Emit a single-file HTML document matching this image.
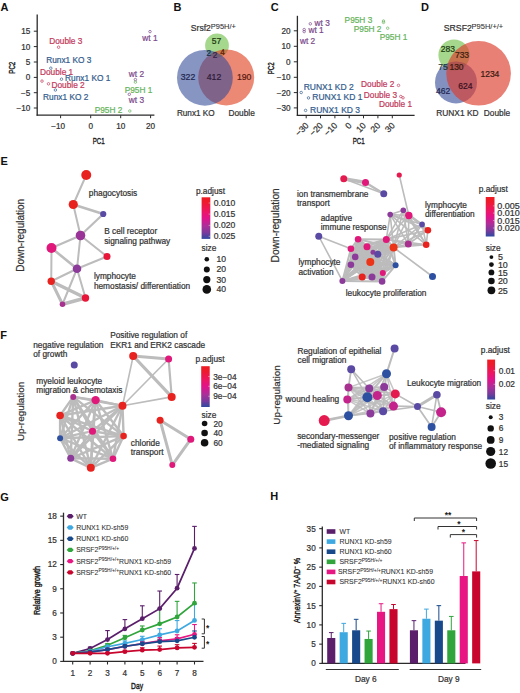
<!DOCTYPE html>
<html><head><meta charset="utf-8"><title>Figure</title>
<style>html,body{margin:0;padding:0;background:#fff;}svg{display:block;font-family:"Liberation Sans",sans-serif;}</style>
</head><body>
<svg width="520" height="693" viewBox="0 0 520 693">
<rect width="520" height="693" fill="#fff"/>
<text x="0.60" y="11.20" font-size="11" fill="#111" stroke="#111" stroke-width="0" text-anchor="start" font-weight="bold" >A</text>
<text x="173.60" y="11.20" font-size="11" fill="#111" stroke="#111" stroke-width="0" text-anchor="start" font-weight="bold" >B</text>
<text x="270.80" y="11.40" font-size="11" fill="#111" stroke="#111" stroke-width="0" text-anchor="start" font-weight="bold" >C</text>
<text x="420.90" y="11.40" font-size="11" fill="#111" stroke="#111" stroke-width="0" text-anchor="start" font-weight="bold" >D</text>
<text x="0.60" y="165.20" font-size="11" fill="#111" stroke="#111" stroke-width="0" text-anchor="start" font-weight="bold" >E</text>
<text x="0.20" y="339.00" font-size="11" fill="#111" stroke="#111" stroke-width="0" text-anchor="start" font-weight="bold" >F</text>
<text x="0.20" y="500.50" font-size="11" fill="#111" stroke="#111" stroke-width="0" text-anchor="start" font-weight="bold" >G</text>
<text x="270.20" y="500.30" font-size="11" fill="#111" stroke="#111" stroke-width="0" text-anchor="start" font-weight="bold" >H</text>
<line x1="37.20" y1="14.60" x2="37.20" y2="115.80" stroke="#2b2b2b" stroke-width="1.3" />
<line x1="36.60" y1="115.20" x2="154.40" y2="115.20" stroke="#2b2b2b" stroke-width="1.3" />
<line x1="33.80" y1="31.20" x2="37.20" y2="31.20" stroke="#2b2b2b" stroke-width="1.0" />
<text x="30.30" y="34.10" font-size="8.2" fill="#333" stroke="#333" stroke-width="0.22" text-anchor="end" font-weight="normal" >15</text>
<line x1="33.80" y1="46.60" x2="37.20" y2="46.60" stroke="#2b2b2b" stroke-width="1.0" />
<text x="30.30" y="49.50" font-size="8.2" fill="#333" stroke="#333" stroke-width="0.22" text-anchor="end" font-weight="normal" >10</text>
<line x1="33.80" y1="62.00" x2="37.20" y2="62.00" stroke="#2b2b2b" stroke-width="1.0" />
<text x="30.30" y="64.90" font-size="8.2" fill="#333" stroke="#333" stroke-width="0.22" text-anchor="end" font-weight="normal" >5</text>
<line x1="33.80" y1="77.40" x2="37.20" y2="77.40" stroke="#2b2b2b" stroke-width="1.0" />
<text x="30.30" y="80.30" font-size="8.2" fill="#333" stroke="#333" stroke-width="0.22" text-anchor="end" font-weight="normal" >0</text>
<line x1="33.80" y1="92.70" x2="37.20" y2="92.70" stroke="#2b2b2b" stroke-width="1.0" />
<text x="30.30" y="95.60" font-size="8.2" fill="#333" stroke="#333" stroke-width="0.22" text-anchor="end" font-weight="normal" >&#8722;5</text>
<line x1="33.80" y1="108.00" x2="37.20" y2="108.00" stroke="#2b2b2b" stroke-width="1.0" />
<text x="30.30" y="110.90" font-size="8.2" fill="#333" stroke="#333" stroke-width="0.22" text-anchor="end" font-weight="normal" >&#8722;10</text>
<line x1="60.60" y1="115.20" x2="60.60" y2="118.20" stroke="#2b2b2b" stroke-width="1.0" />
<text x="65.16" y="129.20" font-size="8.2" fill="#333" stroke="#333" stroke-width="0.22" text-anchor="end" font-weight="normal" >&#8722;10</text>
<line x1="90.70" y1="115.20" x2="90.70" y2="118.20" stroke="#2b2b2b" stroke-width="1.0" />
<text x="90.70" y="129.20" font-size="8.2" fill="#333" stroke="#333" stroke-width="0.22" text-anchor="middle" font-weight="normal" >0</text>
<line x1="120.70" y1="115.20" x2="120.70" y2="118.20" stroke="#2b2b2b" stroke-width="1.0" />
<text x="120.70" y="129.20" font-size="8.2" fill="#333" stroke="#333" stroke-width="0.22" text-anchor="middle" font-weight="normal" >10</text>
<line x1="150.60" y1="115.20" x2="150.60" y2="118.20" stroke="#2b2b2b" stroke-width="1.0" />
<text x="150.60" y="129.20" font-size="8.2" fill="#333" stroke="#333" stroke-width="0.22" text-anchor="middle" font-weight="normal" >20</text>
<g transform="translate(92.70,143.70) scale(0.63,1)"><text x="0" y="0" font-size="9.7" fill="#1c1c1c" stroke="#1c1c1c" stroke-width="0.4" text-anchor="start">PC1</text></g>
<g transform="translate(14.50,67.70) rotate(-90) scale(0.63,1)"><text x="0" y="0" font-size="9.7" fill="#1c1c1c" stroke="#1c1c1c" stroke-width="0.4" text-anchor="middle">PC2</text></g>
<text x="142.30" y="41.20" font-size="8.3" fill="#7b4a8c" stroke="#7b4a8c" stroke-width="0.22" text-anchor="start" font-weight="normal" >wt 1</text>
<circle cx="150.00" cy="31.60" r="1.25" fill="none" stroke="#7b4a8c" stroke-width="0.7" />
<text x="49.20" y="43.50" font-size="8.3" fill="#c23a5c" stroke="#c23a5c" stroke-width="0.22" text-anchor="start" font-weight="normal" >Double 3</text>
<circle cx="58.60" cy="47.20" r="1.25" fill="none" stroke="#c23a5c" stroke-width="0.7" />
<text x="46.20" y="63.10" font-size="8.3" fill="#345d8d" stroke="#345d8d" stroke-width="0.22" text-anchor="start" font-weight="normal" >Runx1 KO 3</text>
<circle cx="50.80" cy="68.20" r="1.25" fill="none" stroke="#345d8d" stroke-width="0.7" />
<text x="40.00" y="74.50" font-size="8.3" fill="#c23a5c" stroke="#c23a5c" stroke-width="0.22" text-anchor="start" font-weight="normal" >Double 1</text>
<circle cx="42.00" cy="81.10" r="1.25" fill="none" stroke="#c23a5c" stroke-width="0.7" />
<circle cx="61.50" cy="79.20" r="1.25" fill="none" stroke="#345d8d" stroke-width="0.7" />
<text x="65.10" y="80.80" font-size="8.3" fill="#345d8d" stroke="#345d8d" stroke-width="0.22" text-anchor="start" font-weight="normal" >Runx1 KO 1</text>
<circle cx="48.50" cy="83.80" r="1.25" fill="none" stroke="#c23a5c" stroke-width="0.7" />
<text x="51.50" y="88.00" font-size="8.3" fill="#c23a5c" stroke="#c23a5c" stroke-width="0.22" text-anchor="start" font-weight="normal" >Double 2</text>
<circle cx="55.40" cy="90.00" r="1.25" fill="none" stroke="#345d8d" stroke-width="0.7" />
<text x="43.10" y="100.30" font-size="8.3" fill="#345d8d" stroke="#345d8d" stroke-width="0.22" text-anchor="start" font-weight="normal" >Runx1 KO 2</text>
<text x="128.80" y="76.80" font-size="8.3" fill="#7b4a8c" stroke="#7b4a8c" stroke-width="0.22" text-anchor="start" font-weight="normal" >wt 2</text>
<circle cx="135.40" cy="79.60" r="1.25" fill="none" stroke="#7b4a8c" stroke-width="0.7" />
<circle cx="135.40" cy="82.10" r="1.25" fill="none" stroke="#66b45c" stroke-width="0.7" />
<text x="124.70" y="92.50" font-size="8.3" fill="#66b45c" stroke="#66b45c" stroke-width="0.22" text-anchor="start" font-weight="normal" >P95H 1</text>
<circle cx="129.30" cy="94.30" r="1.25" fill="none" stroke="#7b4a8c" stroke-width="0.7" />
<text x="128.80" y="103.20" font-size="8.3" fill="#7b4a8c" stroke="#7b4a8c" stroke-width="0.22" text-anchor="start" font-weight="normal" >wt 3</text>
<text x="94.70" y="112.90" font-size="8.3" fill="#66b45c" stroke="#66b45c" stroke-width="0.22" text-anchor="start" font-weight="normal" >P95H 2</text>
<circle cx="129.80" cy="111.00" r="1.25" fill="none" stroke="#66b45c" stroke-width="0.7" />
<g>
<circle cx="217.00" cy="45.50" r="11.90" fill="#69bc3f" stroke="none" stroke-width="0" fill-opacity="0.6"/>
<circle cx="226.20" cy="77.40" r="28.00" fill="#df4021" stroke="none" stroke-width="0" fill-opacity="0.62"/>
<circle cx="204.90" cy="77.80" r="27.90" fill="#304898" stroke="none" stroke-width="0" fill-opacity="0.58"/>
</g>
<text x="190.80" y="30.50" font-size="8.6" fill="#333" stroke="#333" stroke-width="0.22" text-anchor="start" font-weight="normal" >Srsf2</text>
<text x="210.80" y="28.90" font-size="6.8" fill="#333" stroke="#333" stroke-width="0.08" text-anchor="start" font-weight="normal" textLength="25" lengthAdjust="spacingAndGlyphs">P95H/+</text>
<text x="216.60" y="44.40" font-size="8.5" fill="#1a3a10" stroke="#1a3a10" stroke-width="0.22" text-anchor="middle" font-weight="normal" >57</text>
<text x="208.70" y="55.50" font-size="8.2" fill="#16304a" stroke="#16304a" stroke-width="0.22" text-anchor="middle" font-weight="normal" >2</text>
<text x="215.00" y="58.00" font-size="8.2" fill="#3a1e4a" stroke="#3a1e4a" stroke-width="0.22" text-anchor="middle" font-weight="normal" >2</text>
<text x="222.50" y="55.30" font-size="8.2" fill="#5a1808" stroke="#5a1808" stroke-width="0.22" text-anchor="middle" font-weight="normal" >4</text>
<text x="188.00" y="80.00" font-size="8.7" fill="#1f2550" stroke="#1f2550" stroke-width="0.22" text-anchor="middle" font-weight="normal" >322</text>
<text x="214.00" y="80.00" font-size="8.7" fill="#2e1a3a" stroke="#2e1a3a" stroke-width="0.22" text-anchor="middle" font-weight="normal" >412</text>
<text x="244.20" y="79.80" font-size="8.7" fill="#5a1a10" stroke="#5a1a10" stroke-width="0.22" text-anchor="middle" font-weight="normal" >190</text>
<text x="176.90" y="116.00" font-size="8.2" fill="#333" stroke="#333" stroke-width="0.22" text-anchor="start" font-weight="normal" >Runx1 KO</text>
<text x="228.50" y="116.00" font-size="8.3" fill="#333" stroke="#333" stroke-width="0.22" text-anchor="start" font-weight="normal" >Double</text>
<line x1="297.40" y1="15.80" x2="297.40" y2="116.00" stroke="#2b2b2b" stroke-width="1.3" />
<line x1="296.80" y1="115.40" x2="414.60" y2="115.40" stroke="#2b2b2b" stroke-width="1.3" />
<line x1="293.80" y1="30.80" x2="297.40" y2="30.80" stroke="#2b2b2b" stroke-width="1.0" />
<text x="290.60" y="33.70" font-size="8.2" fill="#333" stroke="#333" stroke-width="0.22" text-anchor="end" font-weight="normal" >20</text>
<line x1="293.80" y1="46.30" x2="297.40" y2="46.30" stroke="#2b2b2b" stroke-width="1.0" />
<text x="290.60" y="49.20" font-size="8.2" fill="#333" stroke="#333" stroke-width="0.22" text-anchor="end" font-weight="normal" >10</text>
<line x1="293.80" y1="61.80" x2="297.40" y2="61.80" stroke="#2b2b2b" stroke-width="1.0" />
<text x="290.60" y="64.70" font-size="8.2" fill="#333" stroke="#333" stroke-width="0.22" text-anchor="end" font-weight="normal" >0</text>
<line x1="293.80" y1="77.30" x2="297.40" y2="77.30" stroke="#2b2b2b" stroke-width="1.0" />
<text x="290.60" y="80.20" font-size="8.2" fill="#333" stroke="#333" stroke-width="0.22" text-anchor="end" font-weight="normal" >&#8722;10</text>
<line x1="293.80" y1="92.60" x2="297.40" y2="92.60" stroke="#2b2b2b" stroke-width="1.0" />
<text x="290.60" y="95.50" font-size="8.2" fill="#333" stroke="#333" stroke-width="0.22" text-anchor="end" font-weight="normal" >&#8722;20</text>
<line x1="293.80" y1="107.90" x2="297.40" y2="107.90" stroke="#2b2b2b" stroke-width="1.0" />
<text x="290.60" y="110.80" font-size="8.2" fill="#333" stroke="#333" stroke-width="0.22" text-anchor="end" font-weight="normal" >&#8722;30</text>
<line x1="306.20" y1="115.40" x2="306.20" y2="118.30" stroke="#2b2b2b" stroke-width="1.0" />
<text transform="translate(304.70,121.60) rotate(-45)" x="0" y="0" font-size="8.7" fill="#333" stroke="#333" stroke-width="0.22" text-anchor="end" dominant-baseline="hanging">&#8722;30</text>
<line x1="320.50" y1="115.40" x2="320.50" y2="118.30" stroke="#2b2b2b" stroke-width="1.0" />
<text transform="translate(319.00,121.60) rotate(-45)" x="0" y="0" font-size="8.7" fill="#333" stroke="#333" stroke-width="0.22" text-anchor="end" dominant-baseline="hanging">&#8722;20</text>
<line x1="334.90" y1="115.40" x2="334.90" y2="118.30" stroke="#2b2b2b" stroke-width="1.0" />
<text transform="translate(333.40,121.60) rotate(-45)" x="0" y="0" font-size="8.7" fill="#333" stroke="#333" stroke-width="0.22" text-anchor="end" dominant-baseline="hanging">&#8722;10</text>
<line x1="349.20" y1="115.40" x2="349.20" y2="118.30" stroke="#2b2b2b" stroke-width="1.0" />
<text transform="translate(347.70,121.60) rotate(-45)" x="0" y="0" font-size="8.7" fill="#333" stroke="#333" stroke-width="0.22" text-anchor="end" dominant-baseline="hanging">0</text>
<line x1="363.50" y1="115.40" x2="363.50" y2="118.30" stroke="#2b2b2b" stroke-width="1.0" />
<text transform="translate(362.00,121.60) rotate(-45)" x="0" y="0" font-size="8.7" fill="#333" stroke="#333" stroke-width="0.22" text-anchor="end" dominant-baseline="hanging">10</text>
<line x1="377.90" y1="115.40" x2="377.90" y2="118.30" stroke="#2b2b2b" stroke-width="1.0" />
<text transform="translate(376.40,121.60) rotate(-45)" x="0" y="0" font-size="8.7" fill="#333" stroke="#333" stroke-width="0.22" text-anchor="end" dominant-baseline="hanging">20</text>
<line x1="392.30" y1="115.40" x2="392.30" y2="118.30" stroke="#2b2b2b" stroke-width="1.0" />
<text transform="translate(390.80,121.60) rotate(-45)" x="0" y="0" font-size="8.7" fill="#333" stroke="#333" stroke-width="0.22" text-anchor="end" dominant-baseline="hanging">30</text>
<g transform="translate(352.80,143.50) scale(0.63,1)"><text x="0" y="0" font-size="9.7" fill="#1c1c1c" stroke="#1c1c1c" stroke-width="0.4" text-anchor="start">PC1</text></g>
<g transform="translate(274.00,68.40) rotate(-90) scale(0.63,1)"><text x="0" y="0" font-size="9.7" fill="#1c1c1c" stroke="#1c1c1c" stroke-width="0.4" text-anchor="middle">PC2</text></g>
<circle cx="310.30" cy="23.80" r="1.25" fill="none" stroke="#7b4a8c" stroke-width="0.7" />
<text x="314.60" y="25.70" font-size="8.3" fill="#7b4a8c" stroke="#7b4a8c" stroke-width="0.22" text-anchor="start" font-weight="normal" >wt 3</text>
<circle cx="304.20" cy="29.60" r="1.25" fill="none" stroke="#7b4a8c" stroke-width="0.7" />
<circle cx="304.20" cy="31.60" r="1.25" fill="none" stroke="#7b4a8c" stroke-width="0.7" />
<text x="308.50" y="33.00" font-size="8.3" fill="#7b4a8c" stroke="#7b4a8c" stroke-width="0.22" text-anchor="start" font-weight="normal" >wt 1</text>
<text x="300.00" y="43.50" font-size="8.3" fill="#7b4a8c" stroke="#7b4a8c" stroke-width="0.22" text-anchor="start" font-weight="normal" >wt 2</text>
<text x="344.60" y="23.10" font-size="8.3" fill="#66b45c" stroke="#66b45c" stroke-width="0.22" text-anchor="start" font-weight="normal" >P95H 3</text>
<circle cx="383.50" cy="21.00" r="1.25" fill="none" stroke="#66b45c" stroke-width="0.7" />
<circle cx="383.50" cy="22.40" r="1.25" fill="none" stroke="#66b45c" stroke-width="0.7" />
<text x="353.80" y="31.50" font-size="8.3" fill="#66b45c" stroke="#66b45c" stroke-width="0.22" text-anchor="start" font-weight="normal" >P95H 2</text>
<circle cx="387.70" cy="28.20" r="1.25" fill="none" stroke="#66b45c" stroke-width="0.7" />
<text x="379.70" y="39.70" font-size="8.3" fill="#66b45c" stroke="#66b45c" stroke-width="0.22" text-anchor="start" font-weight="normal" >P95H 1</text>
<circle cx="301.20" cy="92.50" r="1.25" fill="none" stroke="#345d8d" stroke-width="0.7" />
<text x="303.70" y="90.20" font-size="8.5" fill="#345d8d" stroke="#345d8d" stroke-width="0.22" text-anchor="start" font-weight="normal" >RUNX1 KD 2</text>
<circle cx="308.50" cy="97.90" r="1.25" fill="none" stroke="#345d8d" stroke-width="0.7" />
<text x="312.30" y="100.40" font-size="8.5" fill="#345d8d" stroke="#345d8d" stroke-width="0.22" text-anchor="start" font-weight="normal" >RUNX1 KD 1</text>
<circle cx="305.60" cy="110.40" r="1.25" fill="none" stroke="#345d8d" stroke-width="0.7" />
<text x="310.00" y="112.70" font-size="8.5" fill="#345d8d" stroke="#345d8d" stroke-width="0.22" text-anchor="start" font-weight="normal" >RUNX1 KD 3</text>
<text x="361.10" y="86.60" font-size="8.3" fill="#c23a5c" stroke="#c23a5c" stroke-width="0.22" text-anchor="start" font-weight="normal" >Double 2</text>
<circle cx="398.50" cy="85.40" r="1.25" fill="none" stroke="#c23a5c" stroke-width="0.7" />
<text x="363.80" y="98.00" font-size="8.3" fill="#c23a5c" stroke="#c23a5c" stroke-width="0.22" text-anchor="start" font-weight="normal" >Double 3</text>
<circle cx="400.80" cy="96.50" r="1.25" fill="none" stroke="#c23a5c" stroke-width="0.7" />
<circle cx="403.00" cy="97.80" r="1.25" fill="none" stroke="#c23a5c" stroke-width="0.7" />
<text x="378.90" y="106.90" font-size="8.3" fill="#c23a5c" stroke="#c23a5c" stroke-width="0.22" text-anchor="start" font-weight="normal" >Double 1</text>
<circle cx="454.00" cy="55.00" r="15.60" fill="#69bc3f" stroke="none" stroke-width="0" fill-opacity="0.6"/>
<circle cx="456.00" cy="82.40" r="21.00" fill="#304898" stroke="none" stroke-width="0" fill-opacity="0.6"/>
<circle cx="478.60" cy="73.30" r="32.30" fill="#dc3c2d" stroke="none" stroke-width="0" fill-opacity="0.65"/>
<text x="443.80" y="30.80" font-size="8.7" fill="#333" stroke="#333" stroke-width="0.22" text-anchor="start" font-weight="normal" >SRSF2</text>
<text x="471.60" y="28.90" font-size="6.8" fill="#333" stroke="#333" stroke-width="0.08" text-anchor="start" font-weight="normal" textLength="31.6" lengthAdjust="spacingAndGlyphs">P95H/+/+</text>
<text x="447.80" y="52.00" font-size="8.5" fill="#1d3a10" stroke="#1d3a10" stroke-width="0.22" text-anchor="middle" font-weight="normal" >283</text>
<text x="462.00" y="58.40" font-size="8.5" fill="#3a2010" stroke="#3a2010" stroke-width="0.22" text-anchor="middle" font-weight="normal" >733</text>
<text x="443.00" y="70.20" font-size="8.5" fill="#1d3a3a" stroke="#1d3a3a" stroke-width="0.22" text-anchor="middle" font-weight="normal" >75</text>
<text x="456.50" y="70.20" font-size="8.5" fill="#3a1a10" stroke="#3a1a10" stroke-width="0.22" text-anchor="middle" font-weight="normal" >130</text>
<text x="489.90" y="76.80" font-size="8.5" fill="#3a1a10" stroke="#3a1a10" stroke-width="0.22" text-anchor="middle" font-weight="normal" >1234</text>
<text x="443.10" y="93.60" font-size="8.5" fill="#1f2550" stroke="#1f2550" stroke-width="0.22" text-anchor="middle" font-weight="normal" >462</text>
<text x="465.40" y="89.20" font-size="8.5" fill="#3a1020" stroke="#3a1020" stroke-width="0.22" text-anchor="middle" font-weight="normal" >624</text>
<text x="436.20" y="116.00" font-size="8.4" fill="#333" stroke="#333" stroke-width="0.22" text-anchor="start" font-weight="normal" >RUNX1 KD</text>
<text x="483.80" y="116.00" font-size="8.3" fill="#333" stroke="#333" stroke-width="0.22" text-anchor="start" font-weight="normal" >Double</text>
<line x1="86.25" y1="175.00" x2="73.25" y2="204.50" stroke="#bcbcbc" stroke-width="2" stroke-opacity="1" stroke-linecap="round"/>
<line x1="73.25" y1="204.50" x2="103.25" y2="214.00" stroke="#bcbcbc" stroke-width="2.6" stroke-opacity="1" stroke-linecap="round"/>
<line x1="73.25" y1="204.50" x2="80.50" y2="235.50" stroke="#bcbcbc" stroke-width="2" stroke-opacity="1" stroke-linecap="round"/>
<line x1="103.25" y1="214.00" x2="80.50" y2="235.50" stroke="#bcbcbc" stroke-width="2.2" stroke-opacity="1" stroke-linecap="round"/>
<line x1="80.50" y1="235.50" x2="51.50" y2="248.00" stroke="#bcbcbc" stroke-width="2.2" stroke-opacity="1" stroke-linecap="round"/>
<line x1="80.50" y1="235.50" x2="107.00" y2="256.50" stroke="#bcbcbc" stroke-width="2" stroke-opacity="1" stroke-linecap="round"/>
<line x1="80.50" y1="235.50" x2="77.00" y2="268.75" stroke="#bcbcbc" stroke-width="2" stroke-opacity="1" stroke-linecap="round"/>
<line x1="51.50" y1="248.00" x2="77.00" y2="268.75" stroke="#bcbcbc" stroke-width="2.6" stroke-opacity="1" stroke-linecap="round"/>
<line x1="51.50" y1="248.00" x2="51.25" y2="281.25" stroke="#bcbcbc" stroke-width="2" stroke-opacity="1" stroke-linecap="round"/>
<line x1="107.00" y1="256.50" x2="77.00" y2="268.75" stroke="#bcbcbc" stroke-width="2" stroke-opacity="1" stroke-linecap="round"/>
<line x1="77.00" y1="268.75" x2="51.25" y2="281.25" stroke="#bcbcbc" stroke-width="2" stroke-opacity="1" stroke-linecap="round"/>
<line x1="77.00" y1="268.75" x2="85.50" y2="298.00" stroke="#bcbcbc" stroke-width="2" stroke-opacity="1" stroke-linecap="round"/>
<line x1="77.00" y1="268.75" x2="62.50" y2="304.25" stroke="#bcbcbc" stroke-width="2" stroke-opacity="1" stroke-linecap="round"/>
<line x1="51.25" y1="281.25" x2="85.50" y2="298.00" stroke="#bcbcbc" stroke-width="3.6" stroke-opacity="1" stroke-linecap="round"/>
<line x1="51.25" y1="281.25" x2="62.50" y2="304.25" stroke="#bcbcbc" stroke-width="3.0" stroke-opacity="1" stroke-linecap="round"/>
<line x1="85.50" y1="298.00" x2="62.50" y2="304.25" stroke="#bcbcbc" stroke-width="3.6" stroke-opacity="1" stroke-linecap="round"/>
<circle cx="86.25" cy="175.00" r="5.00" fill="#e8221e" stroke="none" stroke-width="0" />
<circle cx="73.25" cy="204.50" r="4.60" fill="#e8221e" stroke="none" stroke-width="0" />
<circle cx="103.25" cy="214.00" r="3.10" fill="#5a4aa3" stroke="none" stroke-width="0" />
<circle cx="80.50" cy="235.50" r="4.80" fill="#9a3397" stroke="none" stroke-width="0" />
<circle cx="51.50" cy="248.00" r="5.00" fill="#e0187a" stroke="none" stroke-width="0" />
<circle cx="107.00" cy="256.50" r="3.50" fill="#e8173a" stroke="none" stroke-width="0" />
<circle cx="77.00" cy="268.75" r="4.30" fill="#8c3b9b" stroke="none" stroke-width="0" />
<circle cx="51.25" cy="281.25" r="3.70" fill="#e8221e" stroke="none" stroke-width="0" />
<circle cx="85.50" cy="298.00" r="3.70" fill="#e8173a" stroke="none" stroke-width="0" />
<circle cx="62.50" cy="304.25" r="2.80" fill="#a8308e" stroke="none" stroke-width="0" />
<text x="88.80" y="196.20" font-size="8.3" fill="#333" stroke="#333" stroke-width="0.22" text-anchor="start" font-weight="normal" >phagocytosis</text>
<text x="104.20" y="234.20" font-size="8.3" fill="#333" stroke="#333" stroke-width="0.22" text-anchor="start" font-weight="normal" >B cell receptor</text>
<text x="104.20" y="243.80" font-size="8.3" fill="#333" stroke="#333" stroke-width="0.22" text-anchor="start" font-weight="normal" >signaling pathway</text>
<text x="93.90" y="278.80" font-size="8.3" fill="#333" stroke="#333" stroke-width="0.22" text-anchor="start" font-weight="normal" >lymphocyte</text>
<text x="93.90" y="288.50" font-size="8.3" fill="#333" stroke="#333" stroke-width="0.22" text-anchor="start" font-weight="normal" >hemostasis/ differentiation</text>
<text transform="translate(23.60,235.30) rotate(-90)" x="0" y="0" font-size="10.0" fill="#333" stroke="#333" stroke-width="0.22" text-anchor="middle">Down-regulation</text>
<text x="195.90" y="193.90" font-size="8.3" fill="#333" stroke="#333" stroke-width="0.22" text-anchor="start" font-weight="normal" >p.adjust</text>
<defs><linearGradient id="g1" x1="0" y1="0" x2="0" y2="1"><stop offset="0" stop-color="#ee1c22"/><stop offset="0.12" stop-color="#ee1a2c"/><stop offset="0.35" stop-color="#ec1566"/><stop offset="0.5" stop-color="#e0138a"/><stop offset="0.7" stop-color="#a8309a"/><stop offset="0.85" stop-color="#7a3a9c"/><stop offset="1" stop-color="#2f48a0"/></linearGradient></defs>
<rect x="201.60" y="197.30" width="8.70" height="41.60" fill="url(#g1)" />
<text x="213.80" y="206.00" font-size="8.6" fill="#333" stroke="#333" stroke-width="0.22" text-anchor="start" font-weight="normal" >0.010</text>
<line x1="208.60" y1="203.00" x2="210.30" y2="203.00" stroke="#fff" stroke-width="0.8" stroke-opacity="0.55"/>
<text x="213.80" y="217.10" font-size="8.6" fill="#333" stroke="#333" stroke-width="0.22" text-anchor="start" font-weight="normal" >0.015</text>
<line x1="208.60" y1="214.10" x2="210.30" y2="214.10" stroke="#fff" stroke-width="0.8" stroke-opacity="0.55"/>
<text x="213.80" y="228.40" font-size="8.6" fill="#333" stroke="#333" stroke-width="0.22" text-anchor="start" font-weight="normal" >0.020</text>
<line x1="208.60" y1="225.40" x2="210.30" y2="225.40" stroke="#fff" stroke-width="0.8" stroke-opacity="0.55"/>
<text x="213.80" y="239.30" font-size="8.6" fill="#333" stroke="#333" stroke-width="0.22" text-anchor="start" font-weight="normal" >0.025</text>
<line x1="208.60" y1="236.30" x2="210.30" y2="236.30" stroke="#fff" stroke-width="0.8" stroke-opacity="0.55"/>
<text x="201.60" y="250.60" font-size="8.3" fill="#333" stroke="#333" stroke-width="0.22" text-anchor="start" font-weight="normal" >size</text>
<circle cx="206.80" cy="259.30" r="2.30" fill="#111" stroke="none" stroke-width="0" />
<text x="216.40" y="262.30" font-size="8.6" fill="#333" stroke="#333" stroke-width="0.22" text-anchor="start" font-weight="normal" >10</text>
<circle cx="206.80" cy="269.40" r="3.00" fill="#111" stroke="none" stroke-width="0" />
<text x="216.40" y="272.40" font-size="8.6" fill="#333" stroke="#333" stroke-width="0.22" text-anchor="start" font-weight="normal" >20</text>
<circle cx="206.80" cy="279.60" r="3.60" fill="#111" stroke="none" stroke-width="0" />
<text x="216.40" y="282.60" font-size="8.6" fill="#333" stroke="#333" stroke-width="0.22" text-anchor="start" font-weight="normal" >30</text>
<circle cx="206.80" cy="289.40" r="4.30" fill="#111" stroke="none" stroke-width="0" />
<text x="216.40" y="292.40" font-size="8.6" fill="#333" stroke="#333" stroke-width="0.22" text-anchor="start" font-weight="normal" >40</text>
<line x1="343.75" y1="178.75" x2="365.50" y2="182.50" stroke="#bcbcbc" stroke-width="3.4" stroke-opacity="1" stroke-linecap="round"/>
<line x1="343.75" y1="178.75" x2="383.75" y2="193.75" stroke="#bcbcbc" stroke-width="1.4" stroke-opacity="1" stroke-linecap="round"/>
<line x1="365.50" y1="182.50" x2="383.75" y2="193.75" stroke="#bcbcbc" stroke-width="2.4" stroke-opacity="1" stroke-linecap="round"/>
<line x1="399.25" y1="175.00" x2="408.80" y2="215.50" stroke="#bcbcbc" stroke-width="1.6" stroke-opacity="1" stroke-linecap="round"/>
<line x1="390.20" y1="214.60" x2="403.30" y2="210.20" stroke="#bcbcbc" stroke-width="1.6" stroke-opacity="1" stroke-linecap="round"/>
<line x1="390.20" y1="214.60" x2="408.80" y2="215.50" stroke="#bcbcbc" stroke-width="1.6" stroke-opacity="1" stroke-linecap="round"/>
<line x1="390.20" y1="214.60" x2="422.10" y2="224.40" stroke="#bcbcbc" stroke-width="1.6" stroke-opacity="1" stroke-linecap="round"/>
<line x1="390.20" y1="214.60" x2="427.90" y2="230.20" stroke="#bcbcbc" stroke-width="1.6" stroke-opacity="1" stroke-linecap="round"/>
<line x1="390.20" y1="214.60" x2="386.30" y2="239.40" stroke="#bcbcbc" stroke-width="1.6" stroke-opacity="1" stroke-linecap="round"/>
<line x1="390.20" y1="214.60" x2="393.60" y2="247.50" stroke="#bcbcbc" stroke-width="1.6" stroke-opacity="1" stroke-linecap="round"/>
<line x1="390.20" y1="214.60" x2="408.30" y2="244.00" stroke="#bcbcbc" stroke-width="1.6" stroke-opacity="1" stroke-linecap="round"/>
<line x1="390.20" y1="214.60" x2="426.20" y2="244.80" stroke="#bcbcbc" stroke-width="1.6" stroke-opacity="1" stroke-linecap="round"/>
<line x1="403.30" y1="210.20" x2="408.80" y2="215.50" stroke="#bcbcbc" stroke-width="1.6" stroke-opacity="1" stroke-linecap="round"/>
<line x1="403.30" y1="210.20" x2="422.10" y2="224.40" stroke="#bcbcbc" stroke-width="1.6" stroke-opacity="1" stroke-linecap="round"/>
<line x1="403.30" y1="210.20" x2="427.90" y2="230.20" stroke="#bcbcbc" stroke-width="1.6" stroke-opacity="1" stroke-linecap="round"/>
<line x1="403.30" y1="210.20" x2="386.30" y2="239.40" stroke="#bcbcbc" stroke-width="1.6" stroke-opacity="1" stroke-linecap="round"/>
<line x1="403.30" y1="210.20" x2="393.60" y2="247.50" stroke="#bcbcbc" stroke-width="1.6" stroke-opacity="1" stroke-linecap="round"/>
<line x1="403.30" y1="210.20" x2="408.30" y2="244.00" stroke="#bcbcbc" stroke-width="1.6" stroke-opacity="1" stroke-linecap="round"/>
<line x1="403.30" y1="210.20" x2="426.20" y2="244.80" stroke="#bcbcbc" stroke-width="1.6" stroke-opacity="1" stroke-linecap="round"/>
<line x1="408.80" y1="215.50" x2="422.10" y2="224.40" stroke="#bcbcbc" stroke-width="1.6" stroke-opacity="1" stroke-linecap="round"/>
<line x1="408.80" y1="215.50" x2="427.90" y2="230.20" stroke="#bcbcbc" stroke-width="1.6" stroke-opacity="1" stroke-linecap="round"/>
<line x1="408.80" y1="215.50" x2="386.30" y2="239.40" stroke="#bcbcbc" stroke-width="1.6" stroke-opacity="1" stroke-linecap="round"/>
<line x1="408.80" y1="215.50" x2="393.60" y2="247.50" stroke="#bcbcbc" stroke-width="1.6" stroke-opacity="1" stroke-linecap="round"/>
<line x1="408.80" y1="215.50" x2="408.30" y2="244.00" stroke="#bcbcbc" stroke-width="1.6" stroke-opacity="1" stroke-linecap="round"/>
<line x1="408.80" y1="215.50" x2="426.20" y2="244.80" stroke="#bcbcbc" stroke-width="1.6" stroke-opacity="1" stroke-linecap="round"/>
<line x1="422.10" y1="224.40" x2="427.90" y2="230.20" stroke="#bcbcbc" stroke-width="1.6" stroke-opacity="1" stroke-linecap="round"/>
<line x1="422.10" y1="224.40" x2="386.30" y2="239.40" stroke="#bcbcbc" stroke-width="1.6" stroke-opacity="1" stroke-linecap="round"/>
<line x1="422.10" y1="224.40" x2="393.60" y2="247.50" stroke="#bcbcbc" stroke-width="1.6" stroke-opacity="1" stroke-linecap="round"/>
<line x1="422.10" y1="224.40" x2="408.30" y2="244.00" stroke="#bcbcbc" stroke-width="1.6" stroke-opacity="1" stroke-linecap="round"/>
<line x1="422.10" y1="224.40" x2="426.20" y2="244.80" stroke="#bcbcbc" stroke-width="1.6" stroke-opacity="1" stroke-linecap="round"/>
<line x1="427.90" y1="230.20" x2="386.30" y2="239.40" stroke="#bcbcbc" stroke-width="1.6" stroke-opacity="1" stroke-linecap="round"/>
<line x1="427.90" y1="230.20" x2="393.60" y2="247.50" stroke="#bcbcbc" stroke-width="1.6" stroke-opacity="1" stroke-linecap="round"/>
<line x1="427.90" y1="230.20" x2="408.30" y2="244.00" stroke="#bcbcbc" stroke-width="1.6" stroke-opacity="1" stroke-linecap="round"/>
<line x1="427.90" y1="230.20" x2="426.20" y2="244.80" stroke="#bcbcbc" stroke-width="1.6" stroke-opacity="1" stroke-linecap="round"/>
<line x1="386.30" y1="239.40" x2="393.60" y2="247.50" stroke="#bcbcbc" stroke-width="1.6" stroke-opacity="1" stroke-linecap="round"/>
<line x1="386.30" y1="239.40" x2="408.30" y2="244.00" stroke="#bcbcbc" stroke-width="1.6" stroke-opacity="1" stroke-linecap="round"/>
<line x1="386.30" y1="239.40" x2="426.20" y2="244.80" stroke="#bcbcbc" stroke-width="1.6" stroke-opacity="1" stroke-linecap="round"/>
<line x1="393.60" y1="247.50" x2="408.30" y2="244.00" stroke="#bcbcbc" stroke-width="1.6" stroke-opacity="1" stroke-linecap="round"/>
<line x1="393.60" y1="247.50" x2="426.20" y2="244.80" stroke="#bcbcbc" stroke-width="1.6" stroke-opacity="1" stroke-linecap="round"/>
<line x1="408.30" y1="244.00" x2="426.20" y2="244.80" stroke="#bcbcbc" stroke-width="1.6" stroke-opacity="1" stroke-linecap="round"/>
<line x1="358.10" y1="239.20" x2="350.90" y2="248.80" stroke="#bcbcbc" stroke-width="2.0" stroke-opacity="1" stroke-linecap="round"/>
<line x1="358.10" y1="239.20" x2="367.00" y2="246.80" stroke="#bcbcbc" stroke-width="2.0" stroke-opacity="1" stroke-linecap="round"/>
<line x1="358.10" y1="239.20" x2="373.00" y2="252.20" stroke="#bcbcbc" stroke-width="2.0" stroke-opacity="1" stroke-linecap="round"/>
<line x1="358.10" y1="239.20" x2="377.80" y2="254.20" stroke="#bcbcbc" stroke-width="2.0" stroke-opacity="1" stroke-linecap="round"/>
<line x1="358.10" y1="239.20" x2="355.20" y2="256.90" stroke="#bcbcbc" stroke-width="2.0" stroke-opacity="1" stroke-linecap="round"/>
<line x1="358.10" y1="239.20" x2="370.30" y2="262.00" stroke="#bcbcbc" stroke-width="2.0" stroke-opacity="1" stroke-linecap="round"/>
<line x1="358.10" y1="239.20" x2="350.90" y2="264.70" stroke="#bcbcbc" stroke-width="2.0" stroke-opacity="1" stroke-linecap="round"/>
<line x1="358.10" y1="239.20" x2="395.60" y2="265.30" stroke="#bcbcbc" stroke-width="2.0" stroke-opacity="1" stroke-linecap="round"/>
<line x1="358.10" y1="239.20" x2="382.80" y2="273.10" stroke="#bcbcbc" stroke-width="2.0" stroke-opacity="1" stroke-linecap="round"/>
<line x1="358.10" y1="239.20" x2="362.20" y2="277.10" stroke="#bcbcbc" stroke-width="2.0" stroke-opacity="1" stroke-linecap="round"/>
<line x1="358.10" y1="239.20" x2="372.00" y2="277.10" stroke="#bcbcbc" stroke-width="2.0" stroke-opacity="1" stroke-linecap="round"/>
<line x1="358.10" y1="239.20" x2="382.10" y2="281.40" stroke="#bcbcbc" stroke-width="2.0" stroke-opacity="1" stroke-linecap="round"/>
<line x1="358.10" y1="239.20" x2="342.40" y2="280.90" stroke="#bcbcbc" stroke-width="2.0" stroke-opacity="1" stroke-linecap="round"/>
<line x1="358.10" y1="239.20" x2="386.30" y2="239.40" stroke="#bcbcbc" stroke-width="2.0" stroke-opacity="1" stroke-linecap="round"/>
<line x1="358.10" y1="239.20" x2="393.60" y2="247.50" stroke="#bcbcbc" stroke-width="2.0" stroke-opacity="1" stroke-linecap="round"/>
<line x1="350.90" y1="248.80" x2="367.00" y2="246.80" stroke="#bcbcbc" stroke-width="2.0" stroke-opacity="1" stroke-linecap="round"/>
<line x1="350.90" y1="248.80" x2="373.00" y2="252.20" stroke="#bcbcbc" stroke-width="2.0" stroke-opacity="1" stroke-linecap="round"/>
<line x1="350.90" y1="248.80" x2="377.80" y2="254.20" stroke="#bcbcbc" stroke-width="2.0" stroke-opacity="1" stroke-linecap="round"/>
<line x1="350.90" y1="248.80" x2="355.20" y2="256.90" stroke="#bcbcbc" stroke-width="2.0" stroke-opacity="1" stroke-linecap="round"/>
<line x1="350.90" y1="248.80" x2="370.30" y2="262.00" stroke="#bcbcbc" stroke-width="2.0" stroke-opacity="1" stroke-linecap="round"/>
<line x1="350.90" y1="248.80" x2="350.90" y2="264.70" stroke="#bcbcbc" stroke-width="2.0" stroke-opacity="1" stroke-linecap="round"/>
<line x1="350.90" y1="248.80" x2="395.60" y2="265.30" stroke="#bcbcbc" stroke-width="2.0" stroke-opacity="1" stroke-linecap="round"/>
<line x1="350.90" y1="248.80" x2="382.80" y2="273.10" stroke="#bcbcbc" stroke-width="2.0" stroke-opacity="1" stroke-linecap="round"/>
<line x1="350.90" y1="248.80" x2="362.20" y2="277.10" stroke="#bcbcbc" stroke-width="2.0" stroke-opacity="1" stroke-linecap="round"/>
<line x1="350.90" y1="248.80" x2="372.00" y2="277.10" stroke="#bcbcbc" stroke-width="2.0" stroke-opacity="1" stroke-linecap="round"/>
<line x1="350.90" y1="248.80" x2="382.10" y2="281.40" stroke="#bcbcbc" stroke-width="2.0" stroke-opacity="1" stroke-linecap="round"/>
<line x1="350.90" y1="248.80" x2="342.40" y2="280.90" stroke="#bcbcbc" stroke-width="2.0" stroke-opacity="1" stroke-linecap="round"/>
<line x1="350.90" y1="248.80" x2="386.30" y2="239.40" stroke="#bcbcbc" stroke-width="2.0" stroke-opacity="1" stroke-linecap="round"/>
<line x1="350.90" y1="248.80" x2="393.60" y2="247.50" stroke="#bcbcbc" stroke-width="2.0" stroke-opacity="1" stroke-linecap="round"/>
<line x1="367.00" y1="246.80" x2="373.00" y2="252.20" stroke="#bcbcbc" stroke-width="2.0" stroke-opacity="1" stroke-linecap="round"/>
<line x1="367.00" y1="246.80" x2="377.80" y2="254.20" stroke="#bcbcbc" stroke-width="2.0" stroke-opacity="1" stroke-linecap="round"/>
<line x1="367.00" y1="246.80" x2="355.20" y2="256.90" stroke="#bcbcbc" stroke-width="2.0" stroke-opacity="1" stroke-linecap="round"/>
<line x1="367.00" y1="246.80" x2="370.30" y2="262.00" stroke="#bcbcbc" stroke-width="2.0" stroke-opacity="1" stroke-linecap="round"/>
<line x1="367.00" y1="246.80" x2="350.90" y2="264.70" stroke="#bcbcbc" stroke-width="2.0" stroke-opacity="1" stroke-linecap="round"/>
<line x1="367.00" y1="246.80" x2="395.60" y2="265.30" stroke="#bcbcbc" stroke-width="2.0" stroke-opacity="1" stroke-linecap="round"/>
<line x1="367.00" y1="246.80" x2="382.80" y2="273.10" stroke="#bcbcbc" stroke-width="2.0" stroke-opacity="1" stroke-linecap="round"/>
<line x1="367.00" y1="246.80" x2="362.20" y2="277.10" stroke="#bcbcbc" stroke-width="2.0" stroke-opacity="1" stroke-linecap="round"/>
<line x1="367.00" y1="246.80" x2="372.00" y2="277.10" stroke="#bcbcbc" stroke-width="2.0" stroke-opacity="1" stroke-linecap="round"/>
<line x1="367.00" y1="246.80" x2="382.10" y2="281.40" stroke="#bcbcbc" stroke-width="2.0" stroke-opacity="1" stroke-linecap="round"/>
<line x1="367.00" y1="246.80" x2="342.40" y2="280.90" stroke="#bcbcbc" stroke-width="2.0" stroke-opacity="1" stroke-linecap="round"/>
<line x1="367.00" y1="246.80" x2="386.30" y2="239.40" stroke="#bcbcbc" stroke-width="2.0" stroke-opacity="1" stroke-linecap="round"/>
<line x1="367.00" y1="246.80" x2="393.60" y2="247.50" stroke="#bcbcbc" stroke-width="2.0" stroke-opacity="1" stroke-linecap="round"/>
<line x1="373.00" y1="252.20" x2="377.80" y2="254.20" stroke="#bcbcbc" stroke-width="2.0" stroke-opacity="1" stroke-linecap="round"/>
<line x1="373.00" y1="252.20" x2="355.20" y2="256.90" stroke="#bcbcbc" stroke-width="2.0" stroke-opacity="1" stroke-linecap="round"/>
<line x1="373.00" y1="252.20" x2="370.30" y2="262.00" stroke="#bcbcbc" stroke-width="2.0" stroke-opacity="1" stroke-linecap="round"/>
<line x1="373.00" y1="252.20" x2="350.90" y2="264.70" stroke="#bcbcbc" stroke-width="2.0" stroke-opacity="1" stroke-linecap="round"/>
<line x1="373.00" y1="252.20" x2="395.60" y2="265.30" stroke="#bcbcbc" stroke-width="2.0" stroke-opacity="1" stroke-linecap="round"/>
<line x1="373.00" y1="252.20" x2="382.80" y2="273.10" stroke="#bcbcbc" stroke-width="2.0" stroke-opacity="1" stroke-linecap="round"/>
<line x1="373.00" y1="252.20" x2="362.20" y2="277.10" stroke="#bcbcbc" stroke-width="2.0" stroke-opacity="1" stroke-linecap="round"/>
<line x1="373.00" y1="252.20" x2="372.00" y2="277.10" stroke="#bcbcbc" stroke-width="2.0" stroke-opacity="1" stroke-linecap="round"/>
<line x1="373.00" y1="252.20" x2="382.10" y2="281.40" stroke="#bcbcbc" stroke-width="2.0" stroke-opacity="1" stroke-linecap="round"/>
<line x1="373.00" y1="252.20" x2="342.40" y2="280.90" stroke="#bcbcbc" stroke-width="2.0" stroke-opacity="1" stroke-linecap="round"/>
<line x1="373.00" y1="252.20" x2="386.30" y2="239.40" stroke="#bcbcbc" stroke-width="2.0" stroke-opacity="1" stroke-linecap="round"/>
<line x1="373.00" y1="252.20" x2="393.60" y2="247.50" stroke="#bcbcbc" stroke-width="2.0" stroke-opacity="1" stroke-linecap="round"/>
<line x1="377.80" y1="254.20" x2="355.20" y2="256.90" stroke="#bcbcbc" stroke-width="2.0" stroke-opacity="1" stroke-linecap="round"/>
<line x1="377.80" y1="254.20" x2="370.30" y2="262.00" stroke="#bcbcbc" stroke-width="2.0" stroke-opacity="1" stroke-linecap="round"/>
<line x1="377.80" y1="254.20" x2="350.90" y2="264.70" stroke="#bcbcbc" stroke-width="2.0" stroke-opacity="1" stroke-linecap="round"/>
<line x1="377.80" y1="254.20" x2="395.60" y2="265.30" stroke="#bcbcbc" stroke-width="2.0" stroke-opacity="1" stroke-linecap="round"/>
<line x1="377.80" y1="254.20" x2="382.80" y2="273.10" stroke="#bcbcbc" stroke-width="2.0" stroke-opacity="1" stroke-linecap="round"/>
<line x1="377.80" y1="254.20" x2="362.20" y2="277.10" stroke="#bcbcbc" stroke-width="2.0" stroke-opacity="1" stroke-linecap="round"/>
<line x1="377.80" y1="254.20" x2="372.00" y2="277.10" stroke="#bcbcbc" stroke-width="2.0" stroke-opacity="1" stroke-linecap="round"/>
<line x1="377.80" y1="254.20" x2="382.10" y2="281.40" stroke="#bcbcbc" stroke-width="2.0" stroke-opacity="1" stroke-linecap="round"/>
<line x1="377.80" y1="254.20" x2="342.40" y2="280.90" stroke="#bcbcbc" stroke-width="2.0" stroke-opacity="1" stroke-linecap="round"/>
<line x1="377.80" y1="254.20" x2="386.30" y2="239.40" stroke="#bcbcbc" stroke-width="2.0" stroke-opacity="1" stroke-linecap="round"/>
<line x1="377.80" y1="254.20" x2="393.60" y2="247.50" stroke="#bcbcbc" stroke-width="2.0" stroke-opacity="1" stroke-linecap="round"/>
<line x1="355.20" y1="256.90" x2="370.30" y2="262.00" stroke="#bcbcbc" stroke-width="2.0" stroke-opacity="1" stroke-linecap="round"/>
<line x1="355.20" y1="256.90" x2="350.90" y2="264.70" stroke="#bcbcbc" stroke-width="2.0" stroke-opacity="1" stroke-linecap="round"/>
<line x1="355.20" y1="256.90" x2="395.60" y2="265.30" stroke="#bcbcbc" stroke-width="2.0" stroke-opacity="1" stroke-linecap="round"/>
<line x1="355.20" y1="256.90" x2="382.80" y2="273.10" stroke="#bcbcbc" stroke-width="2.0" stroke-opacity="1" stroke-linecap="round"/>
<line x1="355.20" y1="256.90" x2="362.20" y2="277.10" stroke="#bcbcbc" stroke-width="2.0" stroke-opacity="1" stroke-linecap="round"/>
<line x1="355.20" y1="256.90" x2="372.00" y2="277.10" stroke="#bcbcbc" stroke-width="2.0" stroke-opacity="1" stroke-linecap="round"/>
<line x1="355.20" y1="256.90" x2="382.10" y2="281.40" stroke="#bcbcbc" stroke-width="2.0" stroke-opacity="1" stroke-linecap="round"/>
<line x1="355.20" y1="256.90" x2="342.40" y2="280.90" stroke="#bcbcbc" stroke-width="2.0" stroke-opacity="1" stroke-linecap="round"/>
<line x1="355.20" y1="256.90" x2="386.30" y2="239.40" stroke="#bcbcbc" stroke-width="2.0" stroke-opacity="1" stroke-linecap="round"/>
<line x1="355.20" y1="256.90" x2="393.60" y2="247.50" stroke="#bcbcbc" stroke-width="2.0" stroke-opacity="1" stroke-linecap="round"/>
<line x1="370.30" y1="262.00" x2="350.90" y2="264.70" stroke="#bcbcbc" stroke-width="2.0" stroke-opacity="1" stroke-linecap="round"/>
<line x1="370.30" y1="262.00" x2="395.60" y2="265.30" stroke="#bcbcbc" stroke-width="2.0" stroke-opacity="1" stroke-linecap="round"/>
<line x1="370.30" y1="262.00" x2="382.80" y2="273.10" stroke="#bcbcbc" stroke-width="2.0" stroke-opacity="1" stroke-linecap="round"/>
<line x1="370.30" y1="262.00" x2="362.20" y2="277.10" stroke="#bcbcbc" stroke-width="2.0" stroke-opacity="1" stroke-linecap="round"/>
<line x1="370.30" y1="262.00" x2="372.00" y2="277.10" stroke="#bcbcbc" stroke-width="2.0" stroke-opacity="1" stroke-linecap="round"/>
<line x1="370.30" y1="262.00" x2="382.10" y2="281.40" stroke="#bcbcbc" stroke-width="2.0" stroke-opacity="1" stroke-linecap="round"/>
<line x1="370.30" y1="262.00" x2="342.40" y2="280.90" stroke="#bcbcbc" stroke-width="2.0" stroke-opacity="1" stroke-linecap="round"/>
<line x1="370.30" y1="262.00" x2="386.30" y2="239.40" stroke="#bcbcbc" stroke-width="2.0" stroke-opacity="1" stroke-linecap="round"/>
<line x1="370.30" y1="262.00" x2="393.60" y2="247.50" stroke="#bcbcbc" stroke-width="2.0" stroke-opacity="1" stroke-linecap="round"/>
<line x1="350.90" y1="264.70" x2="395.60" y2="265.30" stroke="#bcbcbc" stroke-width="2.0" stroke-opacity="1" stroke-linecap="round"/>
<line x1="350.90" y1="264.70" x2="382.80" y2="273.10" stroke="#bcbcbc" stroke-width="2.0" stroke-opacity="1" stroke-linecap="round"/>
<line x1="350.90" y1="264.70" x2="362.20" y2="277.10" stroke="#bcbcbc" stroke-width="2.0" stroke-opacity="1" stroke-linecap="round"/>
<line x1="350.90" y1="264.70" x2="372.00" y2="277.10" stroke="#bcbcbc" stroke-width="2.0" stroke-opacity="1" stroke-linecap="round"/>
<line x1="350.90" y1="264.70" x2="382.10" y2="281.40" stroke="#bcbcbc" stroke-width="2.0" stroke-opacity="1" stroke-linecap="round"/>
<line x1="350.90" y1="264.70" x2="342.40" y2="280.90" stroke="#bcbcbc" stroke-width="2.0" stroke-opacity="1" stroke-linecap="round"/>
<line x1="350.90" y1="264.70" x2="386.30" y2="239.40" stroke="#bcbcbc" stroke-width="2.0" stroke-opacity="1" stroke-linecap="round"/>
<line x1="350.90" y1="264.70" x2="393.60" y2="247.50" stroke="#bcbcbc" stroke-width="2.0" stroke-opacity="1" stroke-linecap="round"/>
<line x1="395.60" y1="265.30" x2="382.80" y2="273.10" stroke="#bcbcbc" stroke-width="2.0" stroke-opacity="1" stroke-linecap="round"/>
<line x1="395.60" y1="265.30" x2="362.20" y2="277.10" stroke="#bcbcbc" stroke-width="2.0" stroke-opacity="1" stroke-linecap="round"/>
<line x1="395.60" y1="265.30" x2="372.00" y2="277.10" stroke="#bcbcbc" stroke-width="2.0" stroke-opacity="1" stroke-linecap="round"/>
<line x1="395.60" y1="265.30" x2="382.10" y2="281.40" stroke="#bcbcbc" stroke-width="2.0" stroke-opacity="1" stroke-linecap="round"/>
<line x1="395.60" y1="265.30" x2="342.40" y2="280.90" stroke="#bcbcbc" stroke-width="2.0" stroke-opacity="1" stroke-linecap="round"/>
<line x1="395.60" y1="265.30" x2="386.30" y2="239.40" stroke="#bcbcbc" stroke-width="2.0" stroke-opacity="1" stroke-linecap="round"/>
<line x1="395.60" y1="265.30" x2="393.60" y2="247.50" stroke="#bcbcbc" stroke-width="2.0" stroke-opacity="1" stroke-linecap="round"/>
<line x1="382.80" y1="273.10" x2="362.20" y2="277.10" stroke="#bcbcbc" stroke-width="2.0" stroke-opacity="1" stroke-linecap="round"/>
<line x1="382.80" y1="273.10" x2="372.00" y2="277.10" stroke="#bcbcbc" stroke-width="2.0" stroke-opacity="1" stroke-linecap="round"/>
<line x1="382.80" y1="273.10" x2="382.10" y2="281.40" stroke="#bcbcbc" stroke-width="2.0" stroke-opacity="1" stroke-linecap="round"/>
<line x1="382.80" y1="273.10" x2="342.40" y2="280.90" stroke="#bcbcbc" stroke-width="2.0" stroke-opacity="1" stroke-linecap="round"/>
<line x1="382.80" y1="273.10" x2="386.30" y2="239.40" stroke="#bcbcbc" stroke-width="2.0" stroke-opacity="1" stroke-linecap="round"/>
<line x1="382.80" y1="273.10" x2="393.60" y2="247.50" stroke="#bcbcbc" stroke-width="2.0" stroke-opacity="1" stroke-linecap="round"/>
<line x1="362.20" y1="277.10" x2="372.00" y2="277.10" stroke="#bcbcbc" stroke-width="2.0" stroke-opacity="1" stroke-linecap="round"/>
<line x1="362.20" y1="277.10" x2="382.10" y2="281.40" stroke="#bcbcbc" stroke-width="2.0" stroke-opacity="1" stroke-linecap="round"/>
<line x1="362.20" y1="277.10" x2="342.40" y2="280.90" stroke="#bcbcbc" stroke-width="2.0" stroke-opacity="1" stroke-linecap="round"/>
<line x1="362.20" y1="277.10" x2="386.30" y2="239.40" stroke="#bcbcbc" stroke-width="2.0" stroke-opacity="1" stroke-linecap="round"/>
<line x1="362.20" y1="277.10" x2="393.60" y2="247.50" stroke="#bcbcbc" stroke-width="2.0" stroke-opacity="1" stroke-linecap="round"/>
<line x1="372.00" y1="277.10" x2="382.10" y2="281.40" stroke="#bcbcbc" stroke-width="2.0" stroke-opacity="1" stroke-linecap="round"/>
<line x1="372.00" y1="277.10" x2="342.40" y2="280.90" stroke="#bcbcbc" stroke-width="2.0" stroke-opacity="1" stroke-linecap="round"/>
<line x1="372.00" y1="277.10" x2="386.30" y2="239.40" stroke="#bcbcbc" stroke-width="2.0" stroke-opacity="1" stroke-linecap="round"/>
<line x1="372.00" y1="277.10" x2="393.60" y2="247.50" stroke="#bcbcbc" stroke-width="2.0" stroke-opacity="1" stroke-linecap="round"/>
<line x1="382.10" y1="281.40" x2="342.40" y2="280.90" stroke="#bcbcbc" stroke-width="2.0" stroke-opacity="1" stroke-linecap="round"/>
<line x1="382.10" y1="281.40" x2="386.30" y2="239.40" stroke="#bcbcbc" stroke-width="2.0" stroke-opacity="1" stroke-linecap="round"/>
<line x1="382.10" y1="281.40" x2="393.60" y2="247.50" stroke="#bcbcbc" stroke-width="2.0" stroke-opacity="1" stroke-linecap="round"/>
<line x1="342.40" y1="280.90" x2="386.30" y2="239.40" stroke="#bcbcbc" stroke-width="2.0" stroke-opacity="1" stroke-linecap="round"/>
<line x1="342.40" y1="280.90" x2="393.60" y2="247.50" stroke="#bcbcbc" stroke-width="2.0" stroke-opacity="1" stroke-linecap="round"/>
<line x1="386.30" y1="239.40" x2="393.60" y2="247.50" stroke="#bcbcbc" stroke-width="2.0" stroke-opacity="1" stroke-linecap="round"/>
<line x1="318.75" y1="236.25" x2="350.90" y2="248.80" stroke="#bcbcbc" stroke-width="1.6" stroke-opacity="1" stroke-linecap="round"/>
<line x1="318.75" y1="236.25" x2="342.40" y2="280.90" stroke="#bcbcbc" stroke-width="1.6" stroke-opacity="1" stroke-linecap="round"/>
<line x1="432.50" y1="276.50" x2="393.60" y2="247.50" stroke="#bcbcbc" stroke-width="1.6" stroke-opacity="1" stroke-linecap="round"/>
<circle cx="343.75" cy="178.75" r="3.50" fill="#e51a4f" stroke="none" stroke-width="0" />
<circle cx="365.50" cy="182.50" r="3.50" fill="#e0187a" stroke="none" stroke-width="0" />
<circle cx="383.75" cy="193.75" r="3.50" fill="#5a4aa3" stroke="none" stroke-width="0" />
<circle cx="399.25" cy="175.00" r="2.60" fill="#e51a4f" stroke="none" stroke-width="0" />
<circle cx="390.20" cy="214.60" r="2.80" fill="#8c3b9b" stroke="none" stroke-width="0" />
<circle cx="403.30" cy="210.20" r="2.80" fill="#8c3b9b" stroke="none" stroke-width="0" />
<circle cx="408.80" cy="215.50" r="3.70" fill="#e0187a" stroke="none" stroke-width="0" />
<circle cx="422.10" cy="224.40" r="2.80" fill="#5a4aa3" stroke="none" stroke-width="0" />
<circle cx="427.90" cy="230.20" r="3.30" fill="#e8221e" stroke="none" stroke-width="0" />
<circle cx="386.30" cy="239.40" r="3.50" fill="#e0187a" stroke="none" stroke-width="0" />
<circle cx="393.60" cy="247.50" r="4.00" fill="#ec3419" stroke="none" stroke-width="0" />
<circle cx="408.30" cy="244.00" r="3.50" fill="#a8308e" stroke="none" stroke-width="0" />
<circle cx="426.20" cy="244.80" r="3.30" fill="#e8221e" stroke="none" stroke-width="0" />
<circle cx="358.10" cy="239.20" r="3.30" fill="#e0187a" stroke="none" stroke-width="0" />
<circle cx="350.90" cy="248.80" r="3.30" fill="#e0187a" stroke="none" stroke-width="0" />
<circle cx="367.00" cy="246.80" r="3.50" fill="#e0187a" stroke="none" stroke-width="0" />
<circle cx="373.00" cy="252.20" r="2.50" fill="#8c3b9b" stroke="none" stroke-width="0" />
<circle cx="377.80" cy="254.20" r="3.50" fill="#5a4aa3" stroke="none" stroke-width="0" />
<circle cx="355.20" cy="256.90" r="3.30" fill="#8c3b9b" stroke="none" stroke-width="0" />
<circle cx="370.30" cy="262.00" r="4.00" fill="#ec3419" stroke="none" stroke-width="0" />
<circle cx="350.90" cy="264.70" r="3.30" fill="#8c3b9b" stroke="none" stroke-width="0" />
<circle cx="395.60" cy="265.30" r="3.00" fill="#2e50a1" stroke="none" stroke-width="0" />
<circle cx="382.80" cy="273.10" r="3.00" fill="#e0187a" stroke="none" stroke-width="0" />
<circle cx="362.20" cy="277.10" r="3.50" fill="#e8221e" stroke="none" stroke-width="0" />
<circle cx="372.00" cy="277.10" r="3.50" fill="#8c3b9b" stroke="none" stroke-width="0" />
<circle cx="382.10" cy="281.40" r="3.30" fill="#8c3b9b" stroke="none" stroke-width="0" />
<circle cx="342.40" cy="280.90" r="3.00" fill="#8c3b9b" stroke="none" stroke-width="0" />
<circle cx="318.75" cy="236.25" r="3.50" fill="#5a4aa3" stroke="none" stroke-width="0" />
<circle cx="432.50" cy="276.50" r="3.50" fill="#2e50a1" stroke="none" stroke-width="0" />
<text x="297.00" y="197.00" font-size="8.3" fill="#333" stroke="#333" stroke-width="0.22" text-anchor="start" font-weight="normal" >ion transmembrane</text>
<text x="297.00" y="206.30" font-size="8.3" fill="#333" stroke="#333" stroke-width="0.22" text-anchor="start" font-weight="normal" >transport</text>
<text x="320.75" y="221.00" font-size="8.3" fill="#333" stroke="#333" stroke-width="0.22" text-anchor="start" font-weight="normal" >adaptive</text>
<text x="320.75" y="230.30" font-size="8.3" fill="#333" stroke="#333" stroke-width="0.22" text-anchor="start" font-weight="normal" >immune response</text>
<text x="298.50" y="265.30" font-size="8.3" fill="#333" stroke="#333" stroke-width="0.22" text-anchor="start" font-weight="normal" >lymphocyte</text>
<text x="298.50" y="274.60" font-size="8.3" fill="#333" stroke="#333" stroke-width="0.22" text-anchor="start" font-weight="normal" >activation</text>
<text x="345.75" y="295.50" font-size="8.3" fill="#333" stroke="#333" stroke-width="0.22" text-anchor="start" font-weight="normal" >leukocyte proliferation</text>
<text x="425.00" y="208.00" font-size="8.3" fill="#333" stroke="#333" stroke-width="0.22" text-anchor="start" font-weight="normal" >lymphocyte</text>
<text x="425.00" y="217.40" font-size="8.3" fill="#333" stroke="#333" stroke-width="0.22" text-anchor="start" font-weight="normal" >differentiation</text>
<text transform="translate(279.20,225.30) rotate(-90)" x="0" y="0" font-size="10.2" fill="#333" stroke="#333" stroke-width="0.22" text-anchor="middle">Down-regulation</text>
<text x="478.75" y="192.00" font-size="8.3" fill="#333" stroke="#333" stroke-width="0.22" text-anchor="start" font-weight="normal" >p.adjust</text>
<defs><linearGradient id="g2" x1="0" y1="0" x2="0" y2="1"><stop offset="0" stop-color="#ee1c22"/><stop offset="0.12" stop-color="#ee1a2c"/><stop offset="0.35" stop-color="#ec1566"/><stop offset="0.5" stop-color="#e0138a"/><stop offset="0.7" stop-color="#a8309a"/><stop offset="0.85" stop-color="#7a3a9c"/><stop offset="1" stop-color="#2f48a0"/></linearGradient></defs>
<rect x="485.75" y="197.00" width="8.75" height="39.50" fill="url(#g2)" />
<text x="497.20" y="209.10" font-size="9.0" fill="#333" stroke="#333" stroke-width="0.22" text-anchor="start" font-weight="normal" >0.005</text>
<line x1="492.90" y1="205.90" x2="494.50" y2="205.90" stroke="#fff" stroke-width="0.8" stroke-opacity="0.55"/>
<text x="497.20" y="216.30" font-size="9.0" fill="#333" stroke="#333" stroke-width="0.22" text-anchor="start" font-weight="normal" >0.010</text>
<line x1="492.90" y1="213.10" x2="494.50" y2="213.10" stroke="#fff" stroke-width="0.8" stroke-opacity="0.55"/>
<text x="497.20" y="223.80" font-size="9.0" fill="#333" stroke="#333" stroke-width="0.22" text-anchor="start" font-weight="normal" >0.015</text>
<line x1="492.90" y1="220.60" x2="494.50" y2="220.60" stroke="#fff" stroke-width="0.8" stroke-opacity="0.55"/>
<text x="497.20" y="231.20" font-size="9.0" fill="#333" stroke="#333" stroke-width="0.22" text-anchor="start" font-weight="normal" >0.020</text>
<line x1="492.90" y1="228.00" x2="494.50" y2="228.00" stroke="#fff" stroke-width="0.8" stroke-opacity="0.55"/>
<text x="485.80" y="251.00" font-size="8.3" fill="#333" stroke="#333" stroke-width="0.22" text-anchor="start" font-weight="normal" >size</text>
<circle cx="491.40" cy="257.10" r="1.90" fill="#111" stroke="none" stroke-width="0" />
<text x="497.90" y="260.30" font-size="8.9" fill="#333" stroke="#333" stroke-width="0.22" text-anchor="start" font-weight="normal" >5</text>
<circle cx="491.40" cy="264.60" r="2.40" fill="#111" stroke="none" stroke-width="0" />
<text x="497.90" y="267.80" font-size="8.9" fill="#333" stroke="#333" stroke-width="0.22" text-anchor="start" font-weight="normal" >10</text>
<circle cx="491.40" cy="272.40" r="2.90" fill="#111" stroke="none" stroke-width="0" />
<text x="497.90" y="275.60" font-size="8.9" fill="#333" stroke="#333" stroke-width="0.22" text-anchor="start" font-weight="normal" >15</text>
<circle cx="491.40" cy="281.00" r="3.30" fill="#111" stroke="none" stroke-width="0" />
<text x="497.90" y="284.20" font-size="8.9" fill="#333" stroke="#333" stroke-width="0.22" text-anchor="start" font-weight="normal" >20</text>
<circle cx="491.40" cy="290.30" r="3.90" fill="#111" stroke="none" stroke-width="0" />
<text x="497.90" y="293.50" font-size="8.9" fill="#333" stroke="#333" stroke-width="0.22" text-anchor="start" font-weight="normal" >25</text>
<line x1="73.20" y1="396.90" x2="95.60" y2="400.10" stroke="#bcbcbc" stroke-width="2.4" stroke-opacity="1" stroke-linecap="round"/>
<line x1="73.20" y1="396.90" x2="122.50" y2="405.80" stroke="#bcbcbc" stroke-width="2.4" stroke-opacity="1" stroke-linecap="round"/>
<line x1="73.20" y1="396.90" x2="60.10" y2="415.50" stroke="#bcbcbc" stroke-width="2.4" stroke-opacity="1" stroke-linecap="round"/>
<line x1="73.20" y1="396.90" x2="92.50" y2="431.20" stroke="#bcbcbc" stroke-width="2.4" stroke-opacity="1" stroke-linecap="round"/>
<line x1="73.20" y1="396.90" x2="60.10" y2="438.20" stroke="#bcbcbc" stroke-width="2.4" stroke-opacity="1" stroke-linecap="round"/>
<line x1="73.20" y1="396.90" x2="123.60" y2="436.10" stroke="#bcbcbc" stroke-width="2.4" stroke-opacity="1" stroke-linecap="round"/>
<line x1="73.20" y1="396.90" x2="70.70" y2="458.30" stroke="#bcbcbc" stroke-width="2.4" stroke-opacity="1" stroke-linecap="round"/>
<line x1="73.20" y1="396.90" x2="113.00" y2="458.70" stroke="#bcbcbc" stroke-width="2.4" stroke-opacity="1" stroke-linecap="round"/>
<line x1="73.20" y1="396.90" x2="90.80" y2="467.80" stroke="#bcbcbc" stroke-width="2.4" stroke-opacity="1" stroke-linecap="round"/>
<line x1="95.60" y1="400.10" x2="122.50" y2="405.80" stroke="#bcbcbc" stroke-width="2.4" stroke-opacity="1" stroke-linecap="round"/>
<line x1="95.60" y1="400.10" x2="60.10" y2="415.50" stroke="#bcbcbc" stroke-width="2.4" stroke-opacity="1" stroke-linecap="round"/>
<line x1="95.60" y1="400.10" x2="92.50" y2="431.20" stroke="#bcbcbc" stroke-width="2.4" stroke-opacity="1" stroke-linecap="round"/>
<line x1="95.60" y1="400.10" x2="60.10" y2="438.20" stroke="#bcbcbc" stroke-width="2.4" stroke-opacity="1" stroke-linecap="round"/>
<line x1="95.60" y1="400.10" x2="123.60" y2="436.10" stroke="#bcbcbc" stroke-width="2.4" stroke-opacity="1" stroke-linecap="round"/>
<line x1="95.60" y1="400.10" x2="70.70" y2="458.30" stroke="#bcbcbc" stroke-width="2.4" stroke-opacity="1" stroke-linecap="round"/>
<line x1="95.60" y1="400.10" x2="113.00" y2="458.70" stroke="#bcbcbc" stroke-width="2.4" stroke-opacity="1" stroke-linecap="round"/>
<line x1="95.60" y1="400.10" x2="90.80" y2="467.80" stroke="#bcbcbc" stroke-width="2.4" stroke-opacity="1" stroke-linecap="round"/>
<line x1="122.50" y1="405.80" x2="60.10" y2="415.50" stroke="#bcbcbc" stroke-width="2.4" stroke-opacity="1" stroke-linecap="round"/>
<line x1="122.50" y1="405.80" x2="92.50" y2="431.20" stroke="#bcbcbc" stroke-width="2.4" stroke-opacity="1" stroke-linecap="round"/>
<line x1="122.50" y1="405.80" x2="60.10" y2="438.20" stroke="#bcbcbc" stroke-width="2.4" stroke-opacity="1" stroke-linecap="round"/>
<line x1="122.50" y1="405.80" x2="123.60" y2="436.10" stroke="#bcbcbc" stroke-width="2.4" stroke-opacity="1" stroke-linecap="round"/>
<line x1="122.50" y1="405.80" x2="70.70" y2="458.30" stroke="#bcbcbc" stroke-width="2.4" stroke-opacity="1" stroke-linecap="round"/>
<line x1="122.50" y1="405.80" x2="113.00" y2="458.70" stroke="#bcbcbc" stroke-width="2.4" stroke-opacity="1" stroke-linecap="round"/>
<line x1="122.50" y1="405.80" x2="90.80" y2="467.80" stroke="#bcbcbc" stroke-width="2.4" stroke-opacity="1" stroke-linecap="round"/>
<line x1="60.10" y1="415.50" x2="92.50" y2="431.20" stroke="#bcbcbc" stroke-width="2.4" stroke-opacity="1" stroke-linecap="round"/>
<line x1="60.10" y1="415.50" x2="60.10" y2="438.20" stroke="#bcbcbc" stroke-width="2.4" stroke-opacity="1" stroke-linecap="round"/>
<line x1="60.10" y1="415.50" x2="123.60" y2="436.10" stroke="#bcbcbc" stroke-width="2.4" stroke-opacity="1" stroke-linecap="round"/>
<line x1="60.10" y1="415.50" x2="70.70" y2="458.30" stroke="#bcbcbc" stroke-width="2.4" stroke-opacity="1" stroke-linecap="round"/>
<line x1="60.10" y1="415.50" x2="113.00" y2="458.70" stroke="#bcbcbc" stroke-width="2.4" stroke-opacity="1" stroke-linecap="round"/>
<line x1="60.10" y1="415.50" x2="90.80" y2="467.80" stroke="#bcbcbc" stroke-width="2.4" stroke-opacity="1" stroke-linecap="round"/>
<line x1="92.50" y1="431.20" x2="60.10" y2="438.20" stroke="#bcbcbc" stroke-width="2.4" stroke-opacity="1" stroke-linecap="round"/>
<line x1="92.50" y1="431.20" x2="123.60" y2="436.10" stroke="#bcbcbc" stroke-width="2.4" stroke-opacity="1" stroke-linecap="round"/>
<line x1="92.50" y1="431.20" x2="70.70" y2="458.30" stroke="#bcbcbc" stroke-width="2.4" stroke-opacity="1" stroke-linecap="round"/>
<line x1="92.50" y1="431.20" x2="113.00" y2="458.70" stroke="#bcbcbc" stroke-width="2.4" stroke-opacity="1" stroke-linecap="round"/>
<line x1="92.50" y1="431.20" x2="90.80" y2="467.80" stroke="#bcbcbc" stroke-width="2.4" stroke-opacity="1" stroke-linecap="round"/>
<line x1="60.10" y1="438.20" x2="123.60" y2="436.10" stroke="#bcbcbc" stroke-width="2.4" stroke-opacity="1" stroke-linecap="round"/>
<line x1="60.10" y1="438.20" x2="70.70" y2="458.30" stroke="#bcbcbc" stroke-width="2.4" stroke-opacity="1" stroke-linecap="round"/>
<line x1="60.10" y1="438.20" x2="113.00" y2="458.70" stroke="#bcbcbc" stroke-width="2.4" stroke-opacity="1" stroke-linecap="round"/>
<line x1="60.10" y1="438.20" x2="90.80" y2="467.80" stroke="#bcbcbc" stroke-width="2.4" stroke-opacity="1" stroke-linecap="round"/>
<line x1="123.60" y1="436.10" x2="70.70" y2="458.30" stroke="#bcbcbc" stroke-width="2.4" stroke-opacity="1" stroke-linecap="round"/>
<line x1="123.60" y1="436.10" x2="113.00" y2="458.70" stroke="#bcbcbc" stroke-width="2.4" stroke-opacity="1" stroke-linecap="round"/>
<line x1="123.60" y1="436.10" x2="90.80" y2="467.80" stroke="#bcbcbc" stroke-width="2.4" stroke-opacity="1" stroke-linecap="round"/>
<line x1="70.70" y1="458.30" x2="113.00" y2="458.70" stroke="#bcbcbc" stroke-width="2.4" stroke-opacity="1" stroke-linecap="round"/>
<line x1="70.70" y1="458.30" x2="90.80" y2="467.80" stroke="#bcbcbc" stroke-width="2.4" stroke-opacity="1" stroke-linecap="round"/>
<line x1="113.00" y1="458.70" x2="90.80" y2="467.80" stroke="#bcbcbc" stroke-width="2.4" stroke-opacity="1" stroke-linecap="round"/>
<line x1="133.20" y1="356.00" x2="168.60" y2="359.00" stroke="#bcbcbc" stroke-width="3.2" stroke-opacity="1" stroke-linecap="round"/>
<line x1="133.20" y1="356.00" x2="171.70" y2="396.90" stroke="#bcbcbc" stroke-width="3.2" stroke-opacity="1" stroke-linecap="round"/>
<line x1="168.60" y1="359.00" x2="171.70" y2="396.90" stroke="#bcbcbc" stroke-width="2.2" stroke-opacity="1" stroke-linecap="round"/>
<line x1="168.60" y1="359.00" x2="122.50" y2="405.80" stroke="#bcbcbc" stroke-width="1.6" stroke-opacity="1" stroke-linecap="round"/>
<line x1="133.20" y1="356.00" x2="122.50" y2="405.80" stroke="#bcbcbc" stroke-width="1.6" stroke-opacity="1" stroke-linecap="round"/>
<line x1="171.70" y1="396.90" x2="122.50" y2="405.80" stroke="#bcbcbc" stroke-width="1.6" stroke-opacity="1" stroke-linecap="round"/>
<line x1="160.10" y1="420.30" x2="190.80" y2="439.20" stroke="#bcbcbc" stroke-width="3.0" stroke-opacity="1" stroke-linecap="round"/>
<line x1="190.80" y1="439.20" x2="172.30" y2="465.10" stroke="#bcbcbc" stroke-width="3.0" stroke-opacity="1" stroke-linecap="round"/>
<line x1="160.10" y1="420.30" x2="172.30" y2="465.10" stroke="#bcbcbc" stroke-width="3.0" stroke-opacity="1" stroke-linecap="round"/>
<circle cx="74.25" cy="365.00" r="3.50" fill="#5a4aa3" stroke="none" stroke-width="0" />
<circle cx="73.20" cy="396.90" r="3.00" fill="#a8308e" stroke="none" stroke-width="0" />
<circle cx="95.60" cy="400.10" r="4.20" fill="#e0187a" stroke="none" stroke-width="0" />
<circle cx="122.50" cy="405.80" r="4.00" fill="#e8221e" stroke="none" stroke-width="0" />
<circle cx="60.10" cy="415.50" r="3.80" fill="#e8221e" stroke="none" stroke-width="0" />
<circle cx="92.50" cy="431.20" r="3.50" fill="#e0187a" stroke="none" stroke-width="0" />
<circle cx="60.10" cy="438.20" r="3.00" fill="#2e50a1" stroke="none" stroke-width="0" />
<circle cx="123.60" cy="436.10" r="3.30" fill="#e8221e" stroke="none" stroke-width="0" />
<circle cx="70.70" cy="458.30" r="3.50" fill="#8c3b9b" stroke="none" stroke-width="0" />
<circle cx="113.00" cy="458.70" r="3.30" fill="#e0187a" stroke="none" stroke-width="0" />
<circle cx="90.80" cy="467.80" r="4.00" fill="#e8221e" stroke="none" stroke-width="0" />
<circle cx="133.20" cy="356.00" r="4.00" fill="#e8221e" stroke="none" stroke-width="0" />
<circle cx="168.60" cy="359.00" r="3.50" fill="#e0187a" stroke="none" stroke-width="0" />
<circle cx="171.70" cy="396.90" r="4.00" fill="#e8221e" stroke="none" stroke-width="0" />
<circle cx="160.10" cy="420.30" r="3.50" fill="#e8221e" stroke="none" stroke-width="0" />
<circle cx="190.80" cy="439.20" r="3.50" fill="#e0187a" stroke="none" stroke-width="0" />
<circle cx="172.30" cy="465.10" r="3.00" fill="#e0187a" stroke="none" stroke-width="0" />
<text x="33.25" y="348.00" font-size="8.3" fill="#333" stroke="#333" stroke-width="0.22" text-anchor="start" font-weight="normal" >negative regulation</text>
<text x="33.25" y="357.00" font-size="8.3" fill="#333" stroke="#333" stroke-width="0.22" text-anchor="start" font-weight="normal" >of growth</text>
<text x="36.25" y="383.80" font-size="8.3" fill="#333" stroke="#333" stroke-width="0.22" text-anchor="start" font-weight="normal" >myeloid leukocyte</text>
<text x="36.25" y="393.20" font-size="8.3" fill="#333" stroke="#333" stroke-width="0.22" text-anchor="start" font-weight="normal" >migration &amp; chemotaxis</text>
<text x="110.20" y="337.90" font-size="8.3" fill="#333" stroke="#333" stroke-width="0.22" text-anchor="start" font-weight="normal" >Positive regulation of</text>
<text x="110.20" y="347.80" font-size="8.3" fill="#333" stroke="#333" stroke-width="0.22" text-anchor="start" font-weight="normal" >EKR1 and ERK2 cascade</text>
<text x="130.80" y="445.60" font-size="8.3" fill="#333" stroke="#333" stroke-width="0.22" text-anchor="start" font-weight="normal" >chloride</text>
<text x="130.80" y="455.10" font-size="8.3" fill="#333" stroke="#333" stroke-width="0.22" text-anchor="start" font-weight="normal" >transport</text>
<text transform="translate(24.20,411.40) rotate(-90)" x="0" y="0" font-size="9.9" fill="#333" stroke="#333" stroke-width="0.22" text-anchor="middle">Up-regulation</text>
<text x="195.40" y="361.60" font-size="8.3" fill="#333" stroke="#333" stroke-width="0.22" text-anchor="start" font-weight="normal" >p.adjust</text>
<defs><linearGradient id="g3" x1="0" y1="0" x2="0" y2="1"><stop offset="0" stop-color="#ee1c22"/><stop offset="0.12" stop-color="#ee1a2c"/><stop offset="0.35" stop-color="#ec1566"/><stop offset="0.5" stop-color="#e0138a"/><stop offset="0.7" stop-color="#a8309a"/><stop offset="0.85" stop-color="#7a3a9c"/><stop offset="1" stop-color="#2f48a0"/></linearGradient></defs>
<rect x="201.20" y="366.20" width="8.50" height="40.80" fill="url(#g3)" />
<text x="213.20" y="379.50" font-size="8.3" fill="#333" stroke="#333" stroke-width="0.22" text-anchor="start" font-weight="normal" >3e&#8722;04</text>
<line x1="208.20" y1="376.50" x2="209.80" y2="376.50" stroke="#fff" stroke-width="0.8" stroke-opacity="0.55"/>
<text x="213.20" y="389.30" font-size="8.3" fill="#333" stroke="#333" stroke-width="0.22" text-anchor="start" font-weight="normal" >6e&#8722;04</text>
<line x1="208.20" y1="386.30" x2="209.80" y2="386.30" stroke="#fff" stroke-width="0.8" stroke-opacity="0.55"/>
<text x="213.20" y="399.30" font-size="8.3" fill="#333" stroke="#333" stroke-width="0.22" text-anchor="start" font-weight="normal" >9e&#8722;04</text>
<line x1="208.20" y1="396.30" x2="209.80" y2="396.30" stroke="#fff" stroke-width="0.8" stroke-opacity="0.55"/>
<text x="201.50" y="417.50" font-size="8.3" fill="#333" stroke="#333" stroke-width="0.22" text-anchor="start" font-weight="normal" >size</text>
<circle cx="204.60" cy="423.50" r="2.80" fill="#111" stroke="none" stroke-width="0" />
<text x="213.40" y="426.50" font-size="8.3" fill="#333" stroke="#333" stroke-width="0.22" text-anchor="start" font-weight="normal" >20</text>
<circle cx="204.60" cy="433.00" r="3.30" fill="#111" stroke="none" stroke-width="0" />
<text x="213.40" y="436.00" font-size="8.3" fill="#333" stroke="#333" stroke-width="0.22" text-anchor="start" font-weight="normal" >40</text>
<circle cx="204.60" cy="442.70" r="3.80" fill="#111" stroke="none" stroke-width="0" />
<text x="213.40" y="445.70" font-size="8.3" fill="#333" stroke="#333" stroke-width="0.22" text-anchor="start" font-weight="normal" >60</text>
<line x1="386.50" y1="373.80" x2="348.50" y2="387.60" stroke="#bcbcbc" stroke-width="1.5" stroke-opacity="0.85" stroke-linecap="round"/>
<line x1="386.50" y1="373.80" x2="369.20" y2="388.50" stroke="#bcbcbc" stroke-width="1.5" stroke-opacity="0.85" stroke-linecap="round"/>
<line x1="386.50" y1="373.80" x2="384.20" y2="386.90" stroke="#bcbcbc" stroke-width="1.5" stroke-opacity="0.85" stroke-linecap="round"/>
<line x1="386.50" y1="373.80" x2="395.30" y2="393.90" stroke="#bcbcbc" stroke-width="1.5" stroke-opacity="0.85" stroke-linecap="round"/>
<line x1="386.50" y1="373.80" x2="347.30" y2="399.60" stroke="#bcbcbc" stroke-width="1.5" stroke-opacity="0.85" stroke-linecap="round"/>
<line x1="386.50" y1="373.80" x2="367.40" y2="397.30" stroke="#bcbcbc" stroke-width="1.5" stroke-opacity="0.85" stroke-linecap="round"/>
<line x1="386.50" y1="373.80" x2="377.30" y2="395.50" stroke="#bcbcbc" stroke-width="1.5" stroke-opacity="0.85" stroke-linecap="round"/>
<line x1="386.50" y1="373.80" x2="393.50" y2="406.10" stroke="#bcbcbc" stroke-width="1.5" stroke-opacity="0.85" stroke-linecap="round"/>
<line x1="386.50" y1="373.80" x2="383.10" y2="411.20" stroke="#bcbcbc" stroke-width="1.5" stroke-opacity="0.85" stroke-linecap="round"/>
<line x1="386.50" y1="373.80" x2="370.40" y2="413.50" stroke="#bcbcbc" stroke-width="1.5" stroke-opacity="0.85" stroke-linecap="round"/>
<line x1="386.50" y1="373.80" x2="348.50" y2="415.80" stroke="#bcbcbc" stroke-width="1.5" stroke-opacity="0.85" stroke-linecap="round"/>
<line x1="348.50" y1="387.60" x2="369.20" y2="388.50" stroke="#bcbcbc" stroke-width="1.5" stroke-opacity="0.85" stroke-linecap="round"/>
<line x1="348.50" y1="387.60" x2="384.20" y2="386.90" stroke="#bcbcbc" stroke-width="1.5" stroke-opacity="0.85" stroke-linecap="round"/>
<line x1="348.50" y1="387.60" x2="395.30" y2="393.90" stroke="#bcbcbc" stroke-width="1.5" stroke-opacity="0.85" stroke-linecap="round"/>
<line x1="348.50" y1="387.60" x2="347.30" y2="399.60" stroke="#bcbcbc" stroke-width="1.5" stroke-opacity="0.85" stroke-linecap="round"/>
<line x1="348.50" y1="387.60" x2="367.40" y2="397.30" stroke="#bcbcbc" stroke-width="1.5" stroke-opacity="0.85" stroke-linecap="round"/>
<line x1="348.50" y1="387.60" x2="377.30" y2="395.50" stroke="#bcbcbc" stroke-width="1.5" stroke-opacity="0.85" stroke-linecap="round"/>
<line x1="348.50" y1="387.60" x2="393.50" y2="406.10" stroke="#bcbcbc" stroke-width="1.5" stroke-opacity="0.85" stroke-linecap="round"/>
<line x1="348.50" y1="387.60" x2="383.10" y2="411.20" stroke="#bcbcbc" stroke-width="1.5" stroke-opacity="0.85" stroke-linecap="round"/>
<line x1="348.50" y1="387.60" x2="370.40" y2="413.50" stroke="#bcbcbc" stroke-width="1.5" stroke-opacity="0.85" stroke-linecap="round"/>
<line x1="348.50" y1="387.60" x2="348.50" y2="415.80" stroke="#bcbcbc" stroke-width="1.5" stroke-opacity="0.85" stroke-linecap="round"/>
<line x1="369.20" y1="388.50" x2="384.20" y2="386.90" stroke="#bcbcbc" stroke-width="1.5" stroke-opacity="0.85" stroke-linecap="round"/>
<line x1="369.20" y1="388.50" x2="395.30" y2="393.90" stroke="#bcbcbc" stroke-width="1.5" stroke-opacity="0.85" stroke-linecap="round"/>
<line x1="369.20" y1="388.50" x2="347.30" y2="399.60" stroke="#bcbcbc" stroke-width="1.5" stroke-opacity="0.85" stroke-linecap="round"/>
<line x1="369.20" y1="388.50" x2="367.40" y2="397.30" stroke="#bcbcbc" stroke-width="1.5" stroke-opacity="0.85" stroke-linecap="round"/>
<line x1="369.20" y1="388.50" x2="377.30" y2="395.50" stroke="#bcbcbc" stroke-width="1.5" stroke-opacity="0.85" stroke-linecap="round"/>
<line x1="369.20" y1="388.50" x2="393.50" y2="406.10" stroke="#bcbcbc" stroke-width="1.5" stroke-opacity="0.85" stroke-linecap="round"/>
<line x1="369.20" y1="388.50" x2="383.10" y2="411.20" stroke="#bcbcbc" stroke-width="1.5" stroke-opacity="0.85" stroke-linecap="round"/>
<line x1="369.20" y1="388.50" x2="370.40" y2="413.50" stroke="#bcbcbc" stroke-width="1.5" stroke-opacity="0.85" stroke-linecap="round"/>
<line x1="369.20" y1="388.50" x2="348.50" y2="415.80" stroke="#bcbcbc" stroke-width="1.5" stroke-opacity="0.85" stroke-linecap="round"/>
<line x1="384.20" y1="386.90" x2="395.30" y2="393.90" stroke="#bcbcbc" stroke-width="1.5" stroke-opacity="0.85" stroke-linecap="round"/>
<line x1="384.20" y1="386.90" x2="347.30" y2="399.60" stroke="#bcbcbc" stroke-width="1.5" stroke-opacity="0.85" stroke-linecap="round"/>
<line x1="384.20" y1="386.90" x2="367.40" y2="397.30" stroke="#bcbcbc" stroke-width="1.5" stroke-opacity="0.85" stroke-linecap="round"/>
<line x1="384.20" y1="386.90" x2="377.30" y2="395.50" stroke="#bcbcbc" stroke-width="1.5" stroke-opacity="0.85" stroke-linecap="round"/>
<line x1="384.20" y1="386.90" x2="393.50" y2="406.10" stroke="#bcbcbc" stroke-width="1.5" stroke-opacity="0.85" stroke-linecap="round"/>
<line x1="384.20" y1="386.90" x2="383.10" y2="411.20" stroke="#bcbcbc" stroke-width="1.5" stroke-opacity="0.85" stroke-linecap="round"/>
<line x1="384.20" y1="386.90" x2="370.40" y2="413.50" stroke="#bcbcbc" stroke-width="1.5" stroke-opacity="0.85" stroke-linecap="round"/>
<line x1="384.20" y1="386.90" x2="348.50" y2="415.80" stroke="#bcbcbc" stroke-width="1.5" stroke-opacity="0.85" stroke-linecap="round"/>
<line x1="395.30" y1="393.90" x2="347.30" y2="399.60" stroke="#bcbcbc" stroke-width="1.5" stroke-opacity="0.85" stroke-linecap="round"/>
<line x1="395.30" y1="393.90" x2="367.40" y2="397.30" stroke="#bcbcbc" stroke-width="1.5" stroke-opacity="0.85" stroke-linecap="round"/>
<line x1="395.30" y1="393.90" x2="377.30" y2="395.50" stroke="#bcbcbc" stroke-width="1.5" stroke-opacity="0.85" stroke-linecap="round"/>
<line x1="395.30" y1="393.90" x2="393.50" y2="406.10" stroke="#bcbcbc" stroke-width="1.5" stroke-opacity="0.85" stroke-linecap="round"/>
<line x1="395.30" y1="393.90" x2="383.10" y2="411.20" stroke="#bcbcbc" stroke-width="1.5" stroke-opacity="0.85" stroke-linecap="round"/>
<line x1="395.30" y1="393.90" x2="370.40" y2="413.50" stroke="#bcbcbc" stroke-width="1.5" stroke-opacity="0.85" stroke-linecap="round"/>
<line x1="395.30" y1="393.90" x2="348.50" y2="415.80" stroke="#bcbcbc" stroke-width="1.5" stroke-opacity="0.85" stroke-linecap="round"/>
<line x1="347.30" y1="399.60" x2="367.40" y2="397.30" stroke="#bcbcbc" stroke-width="1.5" stroke-opacity="0.85" stroke-linecap="round"/>
<line x1="347.30" y1="399.60" x2="377.30" y2="395.50" stroke="#bcbcbc" stroke-width="1.5" stroke-opacity="0.85" stroke-linecap="round"/>
<line x1="347.30" y1="399.60" x2="393.50" y2="406.10" stroke="#bcbcbc" stroke-width="1.5" stroke-opacity="0.85" stroke-linecap="round"/>
<line x1="347.30" y1="399.60" x2="383.10" y2="411.20" stroke="#bcbcbc" stroke-width="1.5" stroke-opacity="0.85" stroke-linecap="round"/>
<line x1="347.30" y1="399.60" x2="370.40" y2="413.50" stroke="#bcbcbc" stroke-width="1.5" stroke-opacity="0.85" stroke-linecap="round"/>
<line x1="347.30" y1="399.60" x2="348.50" y2="415.80" stroke="#bcbcbc" stroke-width="1.5" stroke-opacity="0.85" stroke-linecap="round"/>
<line x1="367.40" y1="397.30" x2="377.30" y2="395.50" stroke="#bcbcbc" stroke-width="1.5" stroke-opacity="0.85" stroke-linecap="round"/>
<line x1="367.40" y1="397.30" x2="393.50" y2="406.10" stroke="#bcbcbc" stroke-width="1.5" stroke-opacity="0.85" stroke-linecap="round"/>
<line x1="367.40" y1="397.30" x2="383.10" y2="411.20" stroke="#bcbcbc" stroke-width="1.5" stroke-opacity="0.85" stroke-linecap="round"/>
<line x1="367.40" y1="397.30" x2="370.40" y2="413.50" stroke="#bcbcbc" stroke-width="1.5" stroke-opacity="0.85" stroke-linecap="round"/>
<line x1="367.40" y1="397.30" x2="348.50" y2="415.80" stroke="#bcbcbc" stroke-width="1.5" stroke-opacity="0.85" stroke-linecap="round"/>
<line x1="377.30" y1="395.50" x2="393.50" y2="406.10" stroke="#bcbcbc" stroke-width="1.5" stroke-opacity="0.85" stroke-linecap="round"/>
<line x1="377.30" y1="395.50" x2="383.10" y2="411.20" stroke="#bcbcbc" stroke-width="1.5" stroke-opacity="0.85" stroke-linecap="round"/>
<line x1="377.30" y1="395.50" x2="370.40" y2="413.50" stroke="#bcbcbc" stroke-width="1.5" stroke-opacity="0.85" stroke-linecap="round"/>
<line x1="377.30" y1="395.50" x2="348.50" y2="415.80" stroke="#bcbcbc" stroke-width="1.5" stroke-opacity="0.85" stroke-linecap="round"/>
<line x1="393.50" y1="406.10" x2="383.10" y2="411.20" stroke="#bcbcbc" stroke-width="1.5" stroke-opacity="0.85" stroke-linecap="round"/>
<line x1="393.50" y1="406.10" x2="370.40" y2="413.50" stroke="#bcbcbc" stroke-width="1.5" stroke-opacity="0.85" stroke-linecap="round"/>
<line x1="393.50" y1="406.10" x2="348.50" y2="415.80" stroke="#bcbcbc" stroke-width="1.5" stroke-opacity="0.85" stroke-linecap="round"/>
<line x1="383.10" y1="411.20" x2="370.40" y2="413.50" stroke="#bcbcbc" stroke-width="1.5" stroke-opacity="0.85" stroke-linecap="round"/>
<line x1="383.10" y1="411.20" x2="348.50" y2="415.80" stroke="#bcbcbc" stroke-width="1.5" stroke-opacity="0.85" stroke-linecap="round"/>
<line x1="370.40" y1="413.50" x2="348.50" y2="415.80" stroke="#bcbcbc" stroke-width="1.5" stroke-opacity="0.85" stroke-linecap="round"/>
<line x1="394.60" y1="348.40" x2="386.50" y2="373.80" stroke="#bcbcbc" stroke-width="2.0" stroke-opacity="1" stroke-linecap="round"/>
<line x1="351.20" y1="369.20" x2="348.50" y2="387.60" stroke="#bcbcbc" stroke-width="1.8" stroke-opacity="1" stroke-linecap="round"/>
<line x1="351.20" y1="369.20" x2="369.20" y2="388.50" stroke="#bcbcbc" stroke-width="1.6" stroke-opacity="1" stroke-linecap="round"/>
<line x1="351.20" y1="369.20" x2="367.40" y2="397.30" stroke="#bcbcbc" stroke-width="1.4" stroke-opacity="1" stroke-linecap="round"/>
<line x1="324.20" y1="420.60" x2="348.50" y2="415.80" stroke="#bcbcbc" stroke-width="2.6" stroke-opacity="1" stroke-linecap="round"/>
<line x1="417.50" y1="406.50" x2="393.50" y2="406.10" stroke="#bcbcbc" stroke-width="1.6" stroke-opacity="1" stroke-linecap="round"/>
<line x1="417.50" y1="406.50" x2="395.30" y2="393.90" stroke="#bcbcbc" stroke-width="1.6" stroke-opacity="1" stroke-linecap="round"/>
<line x1="417.50" y1="406.50" x2="383.10" y2="411.20" stroke="#bcbcbc" stroke-width="1.4" stroke-opacity="1" stroke-linecap="round"/>
<line x1="417.50" y1="406.50" x2="436.90" y2="394.70" stroke="#bcbcbc" stroke-width="3.0" stroke-opacity="1" stroke-linecap="round"/>
<line x1="417.50" y1="406.50" x2="441.10" y2="412.20" stroke="#bcbcbc" stroke-width="1.6" stroke-opacity="1" stroke-linecap="round"/>
<line x1="417.50" y1="406.50" x2="431.60" y2="427.00" stroke="#bcbcbc" stroke-width="1.8" stroke-opacity="1" stroke-linecap="round"/>
<line x1="436.90" y1="394.70" x2="441.10" y2="412.20" stroke="#bcbcbc" stroke-width="1.8" stroke-opacity="1" stroke-linecap="round"/>
<line x1="436.90" y1="394.70" x2="431.60" y2="427.00" stroke="#bcbcbc" stroke-width="1.6" stroke-opacity="1" stroke-linecap="round"/>
<line x1="441.10" y1="412.20" x2="431.60" y2="427.00" stroke="#bcbcbc" stroke-width="1.8" stroke-opacity="1" stroke-linecap="round"/>
<circle cx="394.60" cy="348.40" r="4.00" fill="#5a4aa3" stroke="none" stroke-width="0" />
<circle cx="351.20" cy="369.20" r="4.00" fill="#5a4aa3" stroke="none" stroke-width="0" />
<circle cx="386.50" cy="373.80" r="4.50" fill="#2e50a1" stroke="none" stroke-width="0" />
<circle cx="348.50" cy="387.60" r="4.00" fill="#a8308e" stroke="none" stroke-width="0" />
<circle cx="369.20" cy="388.50" r="4.00" fill="#8c3b9b" stroke="none" stroke-width="0" />
<circle cx="384.20" cy="386.90" r="4.00" fill="#8c3b9b" stroke="none" stroke-width="0" />
<circle cx="395.30" cy="393.90" r="4.50" fill="#e51a4f" stroke="none" stroke-width="0" />
<circle cx="347.30" cy="399.60" r="4.00" fill="#c4238c" stroke="none" stroke-width="0" />
<circle cx="367.40" cy="397.30" r="5.00" fill="#2e50a1" stroke="none" stroke-width="0" />
<circle cx="377.30" cy="395.50" r="4.50" fill="#c4238c" stroke="none" stroke-width="0" />
<circle cx="393.50" cy="406.10" r="4.50" fill="#c4238c" stroke="none" stroke-width="0" />
<circle cx="383.10" cy="411.20" r="4.00" fill="#5a4aa3" stroke="none" stroke-width="0" />
<circle cx="370.40" cy="413.50" r="4.00" fill="#8c3b9b" stroke="none" stroke-width="0" />
<circle cx="348.50" cy="415.80" r="4.50" fill="#2e50a1" stroke="none" stroke-width="0" />
<circle cx="324.20" cy="420.60" r="5.50" fill="#e51a4f" stroke="none" stroke-width="0" />
<circle cx="417.50" cy="406.50" r="3.50" fill="#5a4aa3" stroke="none" stroke-width="0" />
<circle cx="436.90" cy="394.70" r="3.80" fill="#5a4aa3" stroke="none" stroke-width="0" />
<circle cx="441.10" cy="412.20" r="5.00" fill="#c4238c" stroke="none" stroke-width="0" />
<circle cx="431.60" cy="427.00" r="4.00" fill="#2e50a1" stroke="none" stroke-width="0" />
<text x="297.50" y="353.50" font-size="8.3" fill="#333" stroke="#333" stroke-width="0.22" text-anchor="start" font-weight="normal" >Regulation of epithelial</text>
<text x="297.50" y="363.00" font-size="8.3" fill="#333" stroke="#333" stroke-width="0.22" text-anchor="start" font-weight="normal" >cell migration</text>
<text x="285.60" y="402.30" font-size="8.3" fill="#333" stroke="#333" stroke-width="0.22" text-anchor="start" font-weight="normal" >wound healing</text>
<text x="297.20" y="438.70" font-size="8.3" fill="#333" stroke="#333" stroke-width="0.22" text-anchor="start" font-weight="normal" >secondary-messenger</text>
<text x="297.20" y="448.20" font-size="8.3" fill="#333" stroke="#333" stroke-width="0.22" text-anchor="start" font-weight="normal" >-mediated signaling</text>
<text x="406.90" y="385.50" font-size="8.3" fill="#333" stroke="#333" stroke-width="0.22" text-anchor="start" font-weight="normal" >Leukocyte migration</text>
<text x="389.00" y="439.70" font-size="8.3" fill="#333" stroke="#333" stroke-width="0.22" text-anchor="start" font-weight="normal" >positive regulation</text>
<text x="389.00" y="449.20" font-size="8.3" fill="#333" stroke="#333" stroke-width="0.22" text-anchor="start" font-weight="normal" >of inflammatory response</text>
<text transform="translate(279.90,395.00) rotate(-90)" x="0" y="0" font-size="9.9" fill="#333" stroke="#333" stroke-width="0.22" text-anchor="middle">Up-regulation</text>
<text x="480.80" y="352.70" font-size="8.3" fill="#333" stroke="#333" stroke-width="0.22" text-anchor="start" font-weight="normal" >p.adjust</text>
<defs><linearGradient id="g4" x1="0" y1="0" x2="0" y2="1"><stop offset="0" stop-color="#ee1c22"/><stop offset="0.12" stop-color="#ee1a2c"/><stop offset="0.35" stop-color="#ec1566"/><stop offset="0.5" stop-color="#e0138a"/><stop offset="0.7" stop-color="#a8309a"/><stop offset="0.85" stop-color="#7a3a9c"/><stop offset="1" stop-color="#2f48a0"/></linearGradient></defs>
<rect x="487.20" y="359.60" width="7.90" height="39.90" fill="url(#g4)" />
<text x="498.80" y="373.70" font-size="8.3" fill="#333" stroke="#333" stroke-width="0.22" text-anchor="start" font-weight="normal" >0.01</text>
<line x1="493.50" y1="370.70" x2="495.10" y2="370.70" stroke="#fff" stroke-width="0.8" stroke-opacity="0.55"/>
<text x="498.80" y="387.30" font-size="8.3" fill="#333" stroke="#333" stroke-width="0.22" text-anchor="start" font-weight="normal" >0.02</text>
<line x1="493.50" y1="384.30" x2="495.10" y2="384.30" stroke="#fff" stroke-width="0.8" stroke-opacity="0.55"/>
<text x="485.80" y="409.20" font-size="8.3" fill="#333" stroke="#333" stroke-width="0.22" text-anchor="start" font-weight="normal" >size</text>
<circle cx="490.70" cy="417.30" r="2.00" fill="#111" stroke="none" stroke-width="0" />
<text x="498.80" y="420.30" font-size="8.3" fill="#333" stroke="#333" stroke-width="0.22" text-anchor="start" font-weight="normal" >3</text>
<circle cx="490.70" cy="428.40" r="3.20" fill="#111" stroke="none" stroke-width="0" />
<text x="498.80" y="431.40" font-size="8.3" fill="#333" stroke="#333" stroke-width="0.22" text-anchor="start" font-weight="normal" >6</text>
<circle cx="490.70" cy="439.90" r="3.90" fill="#111" stroke="none" stroke-width="0" />
<text x="498.80" y="442.90" font-size="8.3" fill="#333" stroke="#333" stroke-width="0.22" text-anchor="start" font-weight="normal" >9</text>
<circle cx="490.70" cy="451.50" r="4.60" fill="#111" stroke="none" stroke-width="0" />
<text x="498.80" y="454.50" font-size="8.3" fill="#333" stroke="#333" stroke-width="0.22" text-anchor="start" font-weight="normal" >12</text>
<circle cx="490.70" cy="463.50" r="5.30" fill="#111" stroke="none" stroke-width="0" />
<text x="498.80" y="466.50" font-size="8.3" fill="#333" stroke="#333" stroke-width="0.22" text-anchor="start" font-weight="normal" >15</text>
<line x1="63.50" y1="512.70" x2="63.50" y2="662.00" stroke="#2b2b2b" stroke-width="1.3" />
<line x1="62.90" y1="661.40" x2="203.50" y2="661.40" stroke="#2b2b2b" stroke-width="1.3" />
<line x1="60.20" y1="661.40" x2="63.50" y2="661.40" stroke="#2b2b2b" stroke-width="1.1" />
<text x="56.80" y="664.30" font-size="8.2" fill="#333" stroke="#333" stroke-width="0.22" text-anchor="end" font-weight="normal" >0</text>
<line x1="60.20" y1="637.19" x2="63.50" y2="637.19" stroke="#2b2b2b" stroke-width="1.1" />
<text x="56.80" y="640.09" font-size="8.2" fill="#333" stroke="#333" stroke-width="0.22" text-anchor="end" font-weight="normal" >3</text>
<line x1="60.20" y1="612.98" x2="63.50" y2="612.98" stroke="#2b2b2b" stroke-width="1.1" />
<text x="56.80" y="615.88" font-size="8.2" fill="#333" stroke="#333" stroke-width="0.22" text-anchor="end" font-weight="normal" >6</text>
<line x1="60.20" y1="588.77" x2="63.50" y2="588.77" stroke="#2b2b2b" stroke-width="1.1" />
<text x="56.80" y="591.67" font-size="8.2" fill="#333" stroke="#333" stroke-width="0.22" text-anchor="end" font-weight="normal" >9</text>
<line x1="60.20" y1="564.56" x2="63.50" y2="564.56" stroke="#2b2b2b" stroke-width="1.1" />
<text x="56.80" y="567.46" font-size="8.2" fill="#333" stroke="#333" stroke-width="0.22" text-anchor="end" font-weight="normal" >12</text>
<line x1="60.20" y1="540.35" x2="63.50" y2="540.35" stroke="#2b2b2b" stroke-width="1.1" />
<text x="56.80" y="543.25" font-size="8.2" fill="#333" stroke="#333" stroke-width="0.22" text-anchor="end" font-weight="normal" >15</text>
<line x1="60.20" y1="516.14" x2="63.50" y2="516.14" stroke="#2b2b2b" stroke-width="1.1" />
<text x="56.80" y="519.04" font-size="8.2" fill="#333" stroke="#333" stroke-width="0.22" text-anchor="end" font-weight="normal" >18</text>
<line x1="72.70" y1="661.40" x2="72.70" y2="664.50" stroke="#2b2b2b" stroke-width="1.1" />
<text x="72.70" y="675.60" font-size="8.2" fill="#333" stroke="#333" stroke-width="0.22" text-anchor="middle" font-weight="normal" >1</text>
<line x1="90.10" y1="661.40" x2="90.10" y2="664.50" stroke="#2b2b2b" stroke-width="1.1" />
<text x="90.10" y="675.60" font-size="8.2" fill="#333" stroke="#333" stroke-width="0.22" text-anchor="middle" font-weight="normal" >2</text>
<line x1="107.50" y1="661.40" x2="107.50" y2="664.50" stroke="#2b2b2b" stroke-width="1.1" />
<text x="107.50" y="675.60" font-size="8.2" fill="#333" stroke="#333" stroke-width="0.22" text-anchor="middle" font-weight="normal" >3</text>
<line x1="124.90" y1="661.40" x2="124.90" y2="664.50" stroke="#2b2b2b" stroke-width="1.1" />
<text x="124.90" y="675.60" font-size="8.2" fill="#333" stroke="#333" stroke-width="0.22" text-anchor="middle" font-weight="normal" >4</text>
<line x1="142.30" y1="661.40" x2="142.30" y2="664.50" stroke="#2b2b2b" stroke-width="1.1" />
<text x="142.30" y="675.60" font-size="8.2" fill="#333" stroke="#333" stroke-width="0.22" text-anchor="middle" font-weight="normal" >5</text>
<line x1="159.70" y1="661.40" x2="159.70" y2="664.50" stroke="#2b2b2b" stroke-width="1.1" />
<text x="159.70" y="675.60" font-size="8.2" fill="#333" stroke="#333" stroke-width="0.22" text-anchor="middle" font-weight="normal" >6</text>
<line x1="177.10" y1="661.40" x2="177.10" y2="664.50" stroke="#2b2b2b" stroke-width="1.1" />
<text x="177.10" y="675.60" font-size="8.2" fill="#333" stroke="#333" stroke-width="0.22" text-anchor="middle" font-weight="normal" >7</text>
<line x1="194.50" y1="661.40" x2="194.50" y2="664.50" stroke="#2b2b2b" stroke-width="1.1" />
<text x="194.50" y="675.60" font-size="8.2" fill="#333" stroke="#333" stroke-width="0.22" text-anchor="middle" font-weight="normal" >8</text>
<g transform="translate(131.10,689.30) scale(0.78,1)"><text x="0" y="0" font-size="8.6" fill="#1c1c1c" stroke="#1c1c1c" stroke-width="0.4" text-anchor="start">Day</text></g>
<g transform="translate(39.80,590.50) rotate(-90) scale(0.83,1)"><text x="0" y="0" font-size="8.6" fill="#1c1c1c" stroke="#1c1c1c" stroke-width="0.4" text-anchor="middle">Relative growth</text></g>
<line x1="90.10" y1="648.49" x2="90.10" y2="647.28" stroke="#5a1e6b" stroke-width="1.1" />
<line x1="87.80" y1="647.28" x2="92.40" y2="647.28" stroke="#5a1e6b" stroke-width="1.1" />
<line x1="107.50" y1="639.53" x2="107.50" y2="630.57" stroke="#5a1e6b" stroke-width="1.1" />
<line x1="105.20" y1="630.57" x2="109.80" y2="630.57" stroke="#5a1e6b" stroke-width="1.1" />
<line x1="124.90" y1="628.80" x2="124.90" y2="619.60" stroke="#5a1e6b" stroke-width="1.1" />
<line x1="122.60" y1="619.60" x2="127.20" y2="619.60" stroke="#5a1e6b" stroke-width="1.1" />
<line x1="142.30" y1="618.71" x2="142.30" y2="605.80" stroke="#5a1e6b" stroke-width="1.1" />
<line x1="140.00" y1="605.80" x2="144.60" y2="605.80" stroke="#5a1e6b" stroke-width="1.1" />
<line x1="159.70" y1="608.62" x2="159.70" y2="591.03" stroke="#5a1e6b" stroke-width="1.1" />
<line x1="157.40" y1="591.03" x2="162.00" y2="591.03" stroke="#5a1e6b" stroke-width="1.1" />
<line x1="177.10" y1="588.21" x2="177.10" y2="574.49" stroke="#5a1e6b" stroke-width="1.1" />
<line x1="174.80" y1="574.49" x2="179.40" y2="574.49" stroke="#5a1e6b" stroke-width="1.1" />
<line x1="194.50" y1="548.42" x2="194.50" y2="526.39" stroke="#5a1e6b" stroke-width="1.1" />
<line x1="192.20" y1="526.39" x2="196.80" y2="526.39" stroke="#5a1e6b" stroke-width="1.1" />
<line x1="90.10" y1="650.91" x2="90.10" y2="650.10" stroke="#2fa53c" stroke-width="1.1" />
<line x1="87.80" y1="650.10" x2="92.40" y2="650.10" stroke="#2fa53c" stroke-width="1.1" />
<line x1="107.50" y1="645.26" x2="107.50" y2="643.65" stroke="#2fa53c" stroke-width="1.1" />
<line x1="105.20" y1="643.65" x2="109.80" y2="643.65" stroke="#2fa53c" stroke-width="1.1" />
<line x1="124.90" y1="637.84" x2="124.90" y2="635.41" stroke="#2fa53c" stroke-width="1.1" />
<line x1="122.60" y1="635.41" x2="127.20" y2="635.41" stroke="#2fa53c" stroke-width="1.1" />
<line x1="142.30" y1="630.01" x2="142.30" y2="625.97" stroke="#2fa53c" stroke-width="1.1" />
<line x1="140.00" y1="625.97" x2="144.60" y2="625.97" stroke="#2fa53c" stroke-width="1.1" />
<line x1="159.70" y1="623.87" x2="159.70" y2="608.94" stroke="#2fa53c" stroke-width="1.1" />
<line x1="157.40" y1="608.94" x2="162.00" y2="608.94" stroke="#2fa53c" stroke-width="1.1" />
<line x1="177.10" y1="617.01" x2="177.10" y2="601.36" stroke="#2fa53c" stroke-width="1.1" />
<line x1="174.80" y1="601.36" x2="179.40" y2="601.36" stroke="#2fa53c" stroke-width="1.1" />
<line x1="194.50" y1="603.13" x2="194.50" y2="582.96" stroke="#2fa53c" stroke-width="1.1" />
<line x1="192.20" y1="582.96" x2="196.80" y2="582.96" stroke="#2fa53c" stroke-width="1.1" />
<line x1="90.10" y1="651.31" x2="90.10" y2="650.51" stroke="#3ea8e0" stroke-width="1.1" />
<line x1="87.80" y1="650.51" x2="92.40" y2="650.51" stroke="#3ea8e0" stroke-width="1.1" />
<line x1="107.50" y1="646.71" x2="107.50" y2="645.10" stroke="#3ea8e0" stroke-width="1.1" />
<line x1="105.20" y1="645.10" x2="109.80" y2="645.10" stroke="#3ea8e0" stroke-width="1.1" />
<line x1="124.90" y1="643.32" x2="124.90" y2="640.90" stroke="#3ea8e0" stroke-width="1.1" />
<line x1="122.60" y1="640.90" x2="127.20" y2="640.90" stroke="#3ea8e0" stroke-width="1.1" />
<line x1="142.30" y1="639.53" x2="142.30" y2="636.30" stroke="#3ea8e0" stroke-width="1.1" />
<line x1="140.00" y1="636.30" x2="144.60" y2="636.30" stroke="#3ea8e0" stroke-width="1.1" />
<line x1="159.70" y1="634.93" x2="159.70" y2="628.72" stroke="#3ea8e0" stroke-width="1.1" />
<line x1="157.40" y1="628.72" x2="162.00" y2="628.72" stroke="#3ea8e0" stroke-width="1.1" />
<line x1="177.10" y1="630.98" x2="177.10" y2="620.57" stroke="#3ea8e0" stroke-width="1.1" />
<line x1="174.80" y1="620.57" x2="179.40" y2="620.57" stroke="#3ea8e0" stroke-width="1.1" />
<line x1="194.50" y1="620.40" x2="194.50" y2="604.26" stroke="#3ea8e0" stroke-width="1.1" />
<line x1="192.20" y1="604.26" x2="196.80" y2="604.26" stroke="#3ea8e0" stroke-width="1.1" />
<line x1="90.10" y1="652.12" x2="90.10" y2="651.31" stroke="#e81682" stroke-width="1.1" />
<line x1="87.80" y1="651.31" x2="92.40" y2="651.31" stroke="#e81682" stroke-width="1.1" />
<line x1="107.50" y1="649.70" x2="107.50" y2="648.49" stroke="#e81682" stroke-width="1.1" />
<line x1="105.20" y1="648.49" x2="109.80" y2="648.49" stroke="#e81682" stroke-width="1.1" />
<line x1="124.90" y1="646.47" x2="124.90" y2="644.86" stroke="#e81682" stroke-width="1.1" />
<line x1="122.60" y1="644.86" x2="127.20" y2="644.86" stroke="#e81682" stroke-width="1.1" />
<line x1="142.30" y1="643.65" x2="142.30" y2="641.23" stroke="#e81682" stroke-width="1.1" />
<line x1="140.00" y1="641.23" x2="144.60" y2="641.23" stroke="#e81682" stroke-width="1.1" />
<line x1="159.70" y1="640.82" x2="159.70" y2="637.59" stroke="#e81682" stroke-width="1.1" />
<line x1="157.40" y1="637.59" x2="162.00" y2="637.59" stroke="#e81682" stroke-width="1.1" />
<line x1="177.10" y1="638.80" x2="177.10" y2="634.77" stroke="#e81682" stroke-width="1.1" />
<line x1="174.80" y1="634.77" x2="179.40" y2="634.77" stroke="#e81682" stroke-width="1.1" />
<line x1="194.50" y1="634.28" x2="194.50" y2="624.52" stroke="#e81682" stroke-width="1.1" />
<line x1="192.20" y1="624.52" x2="196.80" y2="624.52" stroke="#e81682" stroke-width="1.1" />
<line x1="90.10" y1="652.12" x2="90.10" y2="651.72" stroke="#184a8b" stroke-width="1.1" />
<line x1="87.80" y1="651.72" x2="92.40" y2="651.72" stroke="#184a8b" stroke-width="1.1" />
<line x1="107.50" y1="649.62" x2="107.50" y2="648.81" stroke="#184a8b" stroke-width="1.1" />
<line x1="105.20" y1="648.81" x2="109.80" y2="648.81" stroke="#184a8b" stroke-width="1.1" />
<line x1="124.90" y1="646.23" x2="124.90" y2="645.02" stroke="#184a8b" stroke-width="1.1" />
<line x1="122.60" y1="645.02" x2="127.20" y2="645.02" stroke="#184a8b" stroke-width="1.1" />
<line x1="142.30" y1="643.81" x2="142.30" y2="642.19" stroke="#184a8b" stroke-width="1.1" />
<line x1="140.00" y1="642.19" x2="144.60" y2="642.19" stroke="#184a8b" stroke-width="1.1" />
<line x1="159.70" y1="641.71" x2="159.70" y2="639.29" stroke="#184a8b" stroke-width="1.1" />
<line x1="157.40" y1="639.29" x2="162.00" y2="639.29" stroke="#184a8b" stroke-width="1.1" />
<line x1="177.10" y1="640.82" x2="177.10" y2="637.59" stroke="#184a8b" stroke-width="1.1" />
<line x1="174.80" y1="637.59" x2="179.40" y2="637.59" stroke="#184a8b" stroke-width="1.1" />
<line x1="194.50" y1="637.27" x2="194.50" y2="630.98" stroke="#184a8b" stroke-width="1.1" />
<line x1="192.20" y1="630.98" x2="196.80" y2="630.98" stroke="#184a8b" stroke-width="1.1" />
<line x1="90.10" y1="653.33" x2="90.10" y2="652.93" stroke="#c8062d" stroke-width="1.1" />
<line x1="87.80" y1="652.93" x2="92.40" y2="652.93" stroke="#c8062d" stroke-width="1.1" />
<line x1="107.50" y1="653.33" x2="107.50" y2="652.52" stroke="#c8062d" stroke-width="1.1" />
<line x1="105.20" y1="652.52" x2="109.80" y2="652.52" stroke="#c8062d" stroke-width="1.1" />
<line x1="124.90" y1="651.64" x2="124.90" y2="650.42" stroke="#c8062d" stroke-width="1.1" />
<line x1="122.60" y1="650.42" x2="127.20" y2="650.42" stroke="#c8062d" stroke-width="1.1" />
<line x1="142.30" y1="650.18" x2="142.30" y2="647.76" stroke="#c8062d" stroke-width="1.1" />
<line x1="140.00" y1="647.76" x2="144.60" y2="647.76" stroke="#c8062d" stroke-width="1.1" />
<line x1="159.70" y1="649.54" x2="159.70" y2="646.07" stroke="#c8062d" stroke-width="1.1" />
<line x1="157.40" y1="646.07" x2="162.00" y2="646.07" stroke="#c8062d" stroke-width="1.1" />
<line x1="177.10" y1="647.92" x2="177.10" y2="644.70" stroke="#c8062d" stroke-width="1.1" />
<line x1="174.80" y1="644.70" x2="179.40" y2="644.70" stroke="#c8062d" stroke-width="1.1" />
<line x1="194.50" y1="647.28" x2="194.50" y2="643.40" stroke="#c8062d" stroke-width="1.1" />
<line x1="192.20" y1="643.40" x2="196.80" y2="643.40" stroke="#c8062d" stroke-width="1.1" />
<polyline points="72.70,653.33 90.10,648.49 107.50,639.53 124.90,628.80 142.30,618.71 159.70,608.62 177.10,588.21 194.50,548.42" fill="none" stroke="#5a1e6b" stroke-width="1.7"/>
<circle cx="72.70" cy="653.33" r="2.40" fill="#5a1e6b" stroke="none" stroke-width="0" />
<circle cx="90.10" cy="648.49" r="2.40" fill="#5a1e6b" stroke="none" stroke-width="0" />
<circle cx="107.50" cy="639.53" r="2.40" fill="#5a1e6b" stroke="none" stroke-width="0" />
<circle cx="124.90" cy="628.80" r="2.40" fill="#5a1e6b" stroke="none" stroke-width="0" />
<circle cx="142.30" cy="618.71" r="2.40" fill="#5a1e6b" stroke="none" stroke-width="0" />
<circle cx="159.70" cy="608.62" r="2.40" fill="#5a1e6b" stroke="none" stroke-width="0" />
<circle cx="177.10" cy="588.21" r="2.40" fill="#5a1e6b" stroke="none" stroke-width="0" />
<circle cx="194.50" cy="548.42" r="2.40" fill="#5a1e6b" stroke="none" stroke-width="0" />
<polyline points="72.70,653.33 90.10,650.91 107.50,645.26 124.90,637.84 142.30,630.01 159.70,623.87 177.10,617.01 194.50,603.13" fill="none" stroke="#2fa53c" stroke-width="1.7"/>
<circle cx="72.70" cy="653.33" r="2.40" fill="#2fa53c" stroke="none" stroke-width="0" />
<circle cx="90.10" cy="650.91" r="2.40" fill="#2fa53c" stroke="none" stroke-width="0" />
<circle cx="107.50" cy="645.26" r="2.40" fill="#2fa53c" stroke="none" stroke-width="0" />
<circle cx="124.90" cy="637.84" r="2.40" fill="#2fa53c" stroke="none" stroke-width="0" />
<circle cx="142.30" cy="630.01" r="2.40" fill="#2fa53c" stroke="none" stroke-width="0" />
<circle cx="159.70" cy="623.87" r="2.40" fill="#2fa53c" stroke="none" stroke-width="0" />
<circle cx="177.10" cy="617.01" r="2.40" fill="#2fa53c" stroke="none" stroke-width="0" />
<circle cx="194.50" cy="603.13" r="2.40" fill="#2fa53c" stroke="none" stroke-width="0" />
<polyline points="72.70,653.33 90.10,651.31 107.50,646.71 124.90,643.32 142.30,639.53 159.70,634.93 177.10,630.98 194.50,620.40" fill="none" stroke="#3ea8e0" stroke-width="1.7"/>
<circle cx="72.70" cy="653.33" r="2.40" fill="#3ea8e0" stroke="none" stroke-width="0" />
<circle cx="90.10" cy="651.31" r="2.40" fill="#3ea8e0" stroke="none" stroke-width="0" />
<circle cx="107.50" cy="646.71" r="2.40" fill="#3ea8e0" stroke="none" stroke-width="0" />
<circle cx="124.90" cy="643.32" r="2.40" fill="#3ea8e0" stroke="none" stroke-width="0" />
<circle cx="142.30" cy="639.53" r="2.40" fill="#3ea8e0" stroke="none" stroke-width="0" />
<circle cx="159.70" cy="634.93" r="2.40" fill="#3ea8e0" stroke="none" stroke-width="0" />
<circle cx="177.10" cy="630.98" r="2.40" fill="#3ea8e0" stroke="none" stroke-width="0" />
<circle cx="194.50" cy="620.40" r="2.40" fill="#3ea8e0" stroke="none" stroke-width="0" />
<polyline points="72.70,653.33 90.10,652.12 107.50,649.70 124.90,646.47 142.30,643.65 159.70,640.82 177.10,638.80 194.50,634.28" fill="none" stroke="#e81682" stroke-width="1.7"/>
<circle cx="72.70" cy="653.33" r="2.40" fill="#e81682" stroke="none" stroke-width="0" />
<circle cx="90.10" cy="652.12" r="2.40" fill="#e81682" stroke="none" stroke-width="0" />
<circle cx="107.50" cy="649.70" r="2.40" fill="#e81682" stroke="none" stroke-width="0" />
<circle cx="124.90" cy="646.47" r="2.40" fill="#e81682" stroke="none" stroke-width="0" />
<circle cx="142.30" cy="643.65" r="2.40" fill="#e81682" stroke="none" stroke-width="0" />
<circle cx="159.70" cy="640.82" r="2.40" fill="#e81682" stroke="none" stroke-width="0" />
<circle cx="177.10" cy="638.80" r="2.40" fill="#e81682" stroke="none" stroke-width="0" />
<circle cx="194.50" cy="634.28" r="2.40" fill="#e81682" stroke="none" stroke-width="0" />
<polyline points="72.70,653.33 90.10,652.12 107.50,649.62 124.90,646.23 142.30,643.81 159.70,641.71 177.10,640.82 194.50,637.27" fill="none" stroke="#184a8b" stroke-width="1.7"/>
<circle cx="72.70" cy="653.33" r="2.40" fill="#184a8b" stroke="none" stroke-width="0" />
<circle cx="90.10" cy="652.12" r="2.40" fill="#184a8b" stroke="none" stroke-width="0" />
<circle cx="107.50" cy="649.62" r="2.40" fill="#184a8b" stroke="none" stroke-width="0" />
<circle cx="124.90" cy="646.23" r="2.40" fill="#184a8b" stroke="none" stroke-width="0" />
<circle cx="142.30" cy="643.81" r="2.40" fill="#184a8b" stroke="none" stroke-width="0" />
<circle cx="159.70" cy="641.71" r="2.40" fill="#184a8b" stroke="none" stroke-width="0" />
<circle cx="177.10" cy="640.82" r="2.40" fill="#184a8b" stroke="none" stroke-width="0" />
<circle cx="194.50" cy="637.27" r="2.40" fill="#184a8b" stroke="none" stroke-width="0" />
<polyline points="72.70,653.33 90.10,653.33 107.50,653.33 124.90,651.64 142.30,650.18 159.70,649.54 177.10,647.92 194.50,647.28" fill="none" stroke="#c8062d" stroke-width="1.7"/>
<circle cx="72.70" cy="653.33" r="2.40" fill="#c8062d" stroke="none" stroke-width="0" />
<circle cx="90.10" cy="653.33" r="2.40" fill="#c8062d" stroke="none" stroke-width="0" />
<circle cx="107.50" cy="653.33" r="2.40" fill="#c8062d" stroke="none" stroke-width="0" />
<circle cx="124.90" cy="651.64" r="2.40" fill="#c8062d" stroke="none" stroke-width="0" />
<circle cx="142.30" cy="650.18" r="2.40" fill="#c8062d" stroke="none" stroke-width="0" />
<circle cx="159.70" cy="649.54" r="2.40" fill="#c8062d" stroke="none" stroke-width="0" />
<circle cx="177.10" cy="647.92" r="2.40" fill="#c8062d" stroke="none" stroke-width="0" />
<circle cx="194.50" cy="647.28" r="2.40" fill="#c8062d" stroke="none" stroke-width="0" />
<polyline points="201.7,619 204.4,619 204.4,633.8 201.7,633.8" fill="none" stroke="#333" stroke-width="1"/>
<text x="206.00" y="630.60" font-size="8.5" fill="#222" stroke="#222" stroke-width="0" text-anchor="start" font-weight="bold" >*</text>
<polyline points="201.7,636.5 204.4,636.5 204.4,648.2 201.7,648.2" fill="none" stroke="#333" stroke-width="1"/>
<text x="206.00" y="646.60" font-size="8.5" fill="#222" stroke="#222" stroke-width="0" text-anchor="start" font-weight="bold" >*</text>
<polygon points="66.7,516.20 68.7,514.00 71.7,514.00 73.7,516.20 71.7,518.40 68.7,518.40" fill="#5a1e6b"/>
<text x="76.20" y="518.60" font-size="6.9" fill="#333" stroke="#333" stroke-width="0.08" text-anchor="start" font-weight="normal" >WT</text>
<polygon points="66.7,527.44 68.7,525.24 71.7,525.24 73.7,527.44 71.7,529.64 68.7,529.64" fill="#3ea8e0"/>
<text x="76.20" y="529.84" font-size="6.9" fill="#333" stroke="#333" stroke-width="0.08" text-anchor="start" font-weight="normal" >RUNX1 KD-sh59</text>
<polygon points="66.7,538.68 68.7,536.48 71.7,536.48 73.7,538.68 71.7,540.88 68.7,540.88" fill="#184a8b"/>
<text x="76.20" y="541.08" font-size="6.9" fill="#333" stroke="#333" stroke-width="0.08" text-anchor="start" font-weight="normal" >RUNX1 KD-sh60</text>
<polygon points="66.7,549.92 68.7,547.72 71.7,547.72 73.7,549.92 71.7,552.12 68.7,552.12" fill="#2fa53c"/>
<text x="76.20" y="552.32" font-size="6.9" fill="#333" stroke="#333" stroke-width="0.08" text-anchor="start" font-weight="normal" >SRSF2<tspan font-size="4.9" dy="-2.4">P95H/+/+</tspan></text>
<polygon points="66.7,561.16 68.7,558.96 71.7,558.96 73.7,561.16 71.7,563.36 68.7,563.36" fill="#e81682"/>
<text x="76.20" y="563.56" font-size="6.9" fill="#333" stroke="#333" stroke-width="0.08" text-anchor="start" font-weight="normal" >SRSF2<tspan font-size="4.9" dy="-2.4">P95H/+/+</tspan><tspan dy="2.4">RUNX1 KD-sh59</tspan></text>
<polygon points="66.7,572.40 68.7,570.20 71.7,570.20 73.7,572.40 71.7,574.60 68.7,574.60" fill="#c8062d"/>
<text x="76.20" y="574.80" font-size="6.9" fill="#333" stroke="#333" stroke-width="0.08" text-anchor="start" font-weight="normal" >SRSF2<tspan font-size="4.9" dy="-2.4">P95H/+/+</tspan><tspan dy="2.4">RUNX1 KD-sh60</tspan></text>
<line x1="322.30" y1="526.50" x2="322.30" y2="664.00" stroke="#2b2b2b" stroke-width="1.3" />
<line x1="321.70" y1="663.40" x2="465.50" y2="663.40" stroke="#2b2b2b" stroke-width="1.3" />
<line x1="319.20" y1="663.40" x2="322.30" y2="663.40" stroke="#2b2b2b" stroke-width="1.1" />
<text x="315.70" y="666.30" font-size="8.2" fill="#333" stroke="#333" stroke-width="0.22" text-anchor="end" font-weight="normal" >0</text>
<line x1="319.20" y1="644.15" x2="322.30" y2="644.15" stroke="#2b2b2b" stroke-width="1.1" />
<text x="315.70" y="647.05" font-size="8.2" fill="#333" stroke="#333" stroke-width="0.22" text-anchor="end" font-weight="normal" >5</text>
<line x1="319.20" y1="624.90" x2="322.30" y2="624.90" stroke="#2b2b2b" stroke-width="1.1" />
<text x="315.70" y="627.80" font-size="8.2" fill="#333" stroke="#333" stroke-width="0.22" text-anchor="end" font-weight="normal" >10</text>
<line x1="319.20" y1="605.65" x2="322.30" y2="605.65" stroke="#2b2b2b" stroke-width="1.1" />
<text x="315.70" y="608.55" font-size="8.2" fill="#333" stroke="#333" stroke-width="0.22" text-anchor="end" font-weight="normal" >15</text>
<line x1="319.20" y1="586.40" x2="322.30" y2="586.40" stroke="#2b2b2b" stroke-width="1.1" />
<text x="315.70" y="589.30" font-size="8.2" fill="#333" stroke="#333" stroke-width="0.22" text-anchor="end" font-weight="normal" >20</text>
<line x1="319.20" y1="567.15" x2="322.30" y2="567.15" stroke="#2b2b2b" stroke-width="1.1" />
<text x="315.70" y="570.05" font-size="8.2" fill="#333" stroke="#333" stroke-width="0.22" text-anchor="end" font-weight="normal" >25</text>
<line x1="319.20" y1="547.90" x2="322.30" y2="547.90" stroke="#2b2b2b" stroke-width="1.1" />
<text x="315.70" y="550.80" font-size="8.2" fill="#333" stroke="#333" stroke-width="0.22" text-anchor="end" font-weight="normal" >30</text>
<line x1="319.20" y1="528.65" x2="322.30" y2="528.65" stroke="#2b2b2b" stroke-width="1.1" />
<text x="315.70" y="531.55" font-size="8.2" fill="#333" stroke="#333" stroke-width="0.22" text-anchor="end" font-weight="normal" >35</text>
<line x1="331.25" y1="637.99" x2="331.25" y2="632.60" stroke="#5a1e6b" stroke-width="1.0" />
<line x1="328.95" y1="632.60" x2="333.55" y2="632.60" stroke="#5a1e6b" stroke-width="1.0" />
<rect x="327.20" y="637.99" width="8.10" height="25.41" fill="#5a1e6b" />
<line x1="343.70" y1="632.22" x2="343.70" y2="623.36" stroke="#3ea8e0" stroke-width="1.0" />
<line x1="341.40" y1="623.36" x2="346.00" y2="623.36" stroke="#3ea8e0" stroke-width="1.0" />
<rect x="339.65" y="632.22" width="8.10" height="31.18" fill="#3ea8e0" />
<line x1="356.15" y1="630.29" x2="356.15" y2="619.32" stroke="#184a8b" stroke-width="1.0" />
<line x1="353.85" y1="619.32" x2="358.45" y2="619.32" stroke="#184a8b" stroke-width="1.0" />
<rect x="352.10" y="630.29" width="8.10" height="33.11" fill="#184a8b" />
<line x1="368.60" y1="638.95" x2="368.60" y2="631.06" stroke="#2fa53c" stroke-width="1.0" />
<line x1="366.30" y1="631.06" x2="370.90" y2="631.06" stroke="#2fa53c" stroke-width="1.0" />
<rect x="364.55" y="638.95" width="8.10" height="24.45" fill="#2fa53c" />
<line x1="381.05" y1="611.81" x2="381.05" y2="603.73" stroke="#e81682" stroke-width="1.0" />
<line x1="378.75" y1="603.73" x2="383.35" y2="603.73" stroke="#e81682" stroke-width="1.0" />
<rect x="377.00" y="611.81" width="8.10" height="51.59" fill="#e81682" />
<line x1="393.50" y1="609.12" x2="393.50" y2="604.50" stroke="#c8062d" stroke-width="1.0" />
<line x1="391.20" y1="604.50" x2="395.80" y2="604.50" stroke="#c8062d" stroke-width="1.0" />
<rect x="389.45" y="609.12" width="8.10" height="54.28" fill="#c8062d" />
<line x1="413.95" y1="630.29" x2="413.95" y2="620.66" stroke="#5a1e6b" stroke-width="1.0" />
<line x1="411.65" y1="620.66" x2="416.25" y2="620.66" stroke="#5a1e6b" stroke-width="1.0" />
<rect x="409.90" y="630.29" width="8.10" height="33.11" fill="#5a1e6b" />
<line x1="426.40" y1="618.74" x2="426.40" y2="609.12" stroke="#3ea8e0" stroke-width="1.0" />
<line x1="424.10" y1="609.12" x2="428.70" y2="609.12" stroke="#3ea8e0" stroke-width="1.0" />
<rect x="422.35" y="618.74" width="8.10" height="44.66" fill="#3ea8e0" />
<line x1="438.85" y1="620.66" x2="438.85" y2="605.65" stroke="#184a8b" stroke-width="1.0" />
<line x1="436.55" y1="605.65" x2="441.15" y2="605.65" stroke="#184a8b" stroke-width="1.0" />
<rect x="434.80" y="620.66" width="8.10" height="42.74" fill="#184a8b" />
<line x1="451.30" y1="630.29" x2="451.30" y2="616.43" stroke="#2fa53c" stroke-width="1.0" />
<line x1="449.00" y1="616.43" x2="453.60" y2="616.43" stroke="#2fa53c" stroke-width="1.0" />
<rect x="447.25" y="630.29" width="8.10" height="33.11" fill="#2fa53c" />
<line x1="463.75" y1="576.00" x2="463.75" y2="542.89" stroke="#e81682" stroke-width="1.0" />
<line x1="461.45" y1="542.89" x2="466.05" y2="542.89" stroke="#e81682" stroke-width="1.0" />
<rect x="459.70" y="576.00" width="8.10" height="87.39" fill="#e81682" />
<line x1="476.20" y1="571.38" x2="476.20" y2="540.59" stroke="#c8062d" stroke-width="1.0" />
<line x1="473.90" y1="540.59" x2="478.50" y2="540.59" stroke="#c8062d" stroke-width="1.0" />
<rect x="472.15" y="571.38" width="8.10" height="92.01" fill="#c8062d" />
<line x1="325.80" y1="669.50" x2="398.80" y2="669.50" stroke="#333" stroke-width="1.0" />
<line x1="409.70" y1="669.50" x2="481.20" y2="669.50" stroke="#333" stroke-width="1.0" />
<text x="365.80" y="681.50" font-size="8.3" fill="#333" stroke="#333" stroke-width="0.22" text-anchor="middle" font-weight="normal" >Day 6</text>
<text x="448.80" y="681.50" font-size="8.3" fill="#333" stroke="#333" stroke-width="0.22" text-anchor="middle" font-weight="normal" >Day 9</text>
<rect x="326.70" y="529.20" width="8.70" height="4.60" fill="#5a1e6b" />
<text x="339.50" y="533.60" font-size="6.9" fill="#333" stroke="#333" stroke-width="0.08" text-anchor="start" font-weight="normal" >WT</text>
<rect x="326.70" y="539.30" width="8.70" height="4.60" fill="#3ea8e0" />
<text x="339.50" y="543.70" font-size="6.9" fill="#333" stroke="#333" stroke-width="0.08" text-anchor="start" font-weight="normal" >RUNX1 KD-sh59</text>
<rect x="326.70" y="549.40" width="8.70" height="4.60" fill="#184a8b" />
<text x="339.50" y="553.80" font-size="6.9" fill="#333" stroke="#333" stroke-width="0.08" text-anchor="start" font-weight="normal" >RUNX1 KD-sh60</text>
<rect x="326.70" y="559.50" width="8.70" height="4.60" fill="#2fa53c" />
<text x="339.50" y="563.90" font-size="6.9" fill="#333" stroke="#333" stroke-width="0.08" text-anchor="start" font-weight="normal" >SRSF2<tspan font-size="4.9" dy="-2.4">P95H/+/+</tspan></text>
<rect x="326.70" y="569.60" width="8.70" height="4.60" fill="#e81682" />
<text x="338.00" y="574.00" font-size="6.9" fill="#333" stroke="#333" stroke-width="0.08" text-anchor="start" font-weight="normal" >SRSF2<tspan font-size="4.9" dy="-2.4">P95H/+/+</tspan><tspan dy="2.4">RUNX1 KD-sh59</tspan></text>
<rect x="326.70" y="579.70" width="8.70" height="4.60" fill="#c8062d" />
<text x="339.50" y="584.10" font-size="6.9" fill="#333" stroke="#333" stroke-width="0.08" text-anchor="start" font-weight="normal" >SRSF2<tspan font-size="4.9" dy="-2.4">P95H/+/+</tspan><tspan dy="2.4">RUNX1 KD-sh60</tspan></text>
<polyline points="414.3,521 414.3,518 476.6,518 476.6,521" fill="none" stroke="#333" stroke-width="1"/>
<text x="448.00" y="518.30" font-size="8.5" fill="#222" stroke="#222" stroke-width="0" text-anchor="middle" font-weight="bold" >**</text>
<polyline points="438,529.5 438,526.5 476.6,526.5 476.6,529.5" fill="none" stroke="#333" stroke-width="1"/>
<text x="458.80" y="526.80" font-size="8.5" fill="#222" stroke="#222" stroke-width="0" text-anchor="middle" font-weight="bold" >*</text>
<polyline points="450.3,537.6 450.3,534.6 476.6,534.6 476.6,537.6" fill="none" stroke="#333" stroke-width="1"/>
<text x="463.50" y="534.90" font-size="8.5" fill="#222" stroke="#222" stroke-width="0" text-anchor="middle" font-weight="bold" >*</text>
<g transform="translate(300.00,590.50) rotate(-90) scale(0.77,1)"><text x="0" y="0" font-size="9.4" fill="#1c1c1c" stroke="#1c1c1c" stroke-width="0.4" text-anchor="middle">AnnexinV<tspan font-size="5.5" dy="-3.3">+</tspan><tspan dy="3.3"> 7AAD</tspan><tspan font-size="5.5" dy="-3.3">&#8722;</tspan><tspan dy="3.3"> %</tspan></text></g>
</svg>
</body></html>
